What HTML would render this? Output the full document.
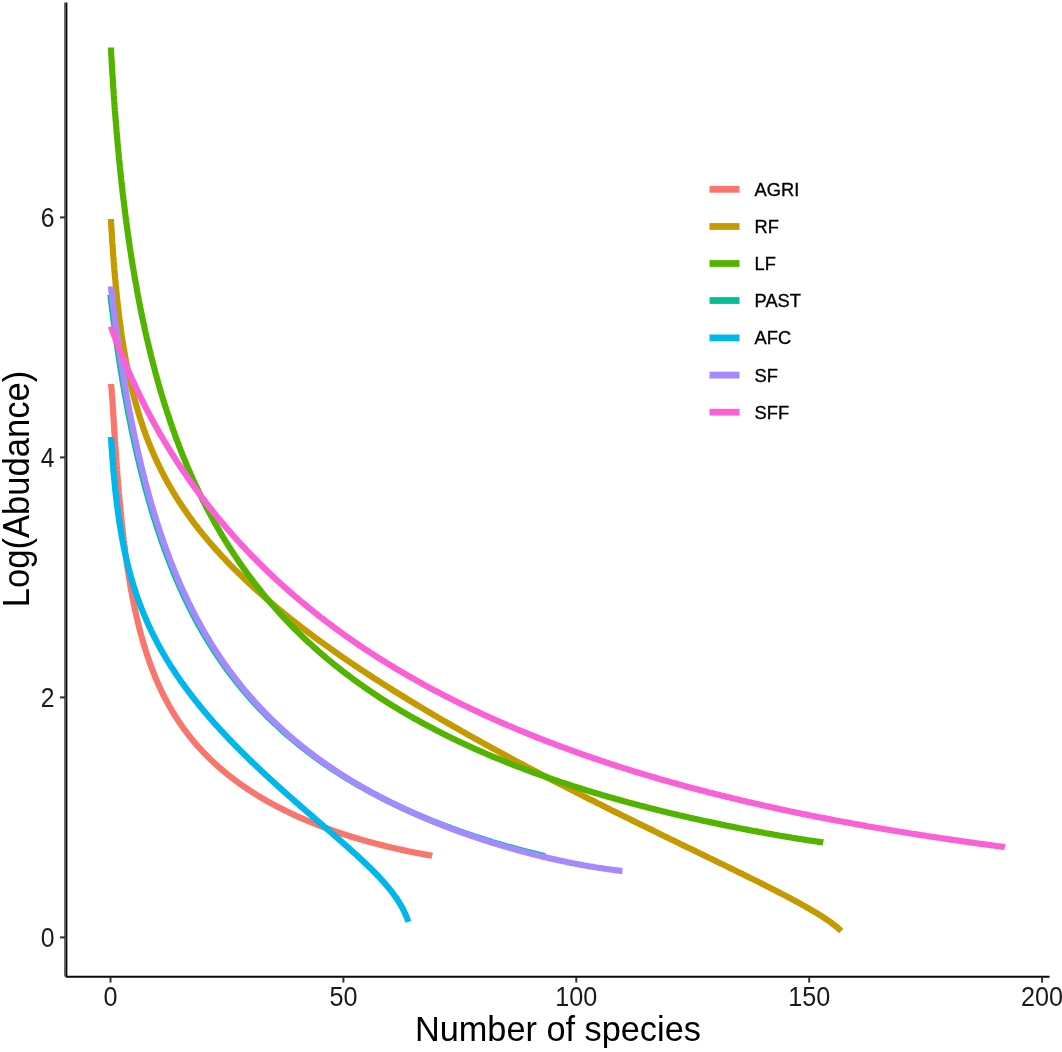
<!DOCTYPE html>
<html><head><meta charset="utf-8"><title>Rank abundance</title>
<style>
html,body{margin:0;padding:0;background:#fff;}
body{width:1062px;height:1052px;overflow:hidden;}
svg{display:block;font-family:"Liberation Sans",Arial,sans-serif;filter:blur(0.55px);}
.curves path{fill:none;stroke-width:6.2;stroke-linecap:butt;stroke-linejoin:round;}
</style></head><body>
<svg width="1062" height="1052" viewBox="0 0 1062 1052">
<rect width="1062" height="1052" fill="#fff"/>
<g class="axes">
<line x1="64.7" x2="64.7" y1="2.5" y2="976.6" stroke="#6e6e6e" stroke-width="1.4"/>
<path d="M66.4,2.5 V976.65 H1049.5" fill="none" stroke="#0a0a0a" stroke-width="2" stroke-linejoin="round"/>
<line x1="60" x2="65" y1="937.4" y2="937.4" stroke="#333" stroke-width="2"/>
<text transform="translate(54.6,947.2) scale(0.95,1.06)" font-size="26" text-anchor="end" fill="#1a1a1a">0</text>
<line x1="60" x2="65" y1="697.4" y2="697.4" stroke="#333" stroke-width="2"/>
<text transform="translate(54.6,707.2) scale(0.95,1.06)" font-size="26" text-anchor="end" fill="#1a1a1a">2</text>
<line x1="60" x2="65" y1="457.4" y2="457.4" stroke="#333" stroke-width="2"/>
<text transform="translate(54.6,467.2) scale(0.95,1.06)" font-size="26" text-anchor="end" fill="#1a1a1a">4</text>
<line x1="60" x2="65" y1="217.4" y2="217.4" stroke="#333" stroke-width="2"/>
<text transform="translate(54.6,227.2) scale(0.95,1.06)" font-size="26" text-anchor="end" fill="#1a1a1a">6</text>
<line y1="977" y2="982.6" x1="110.5" x2="110.5" stroke="#333" stroke-width="2"/>
<text transform="translate(110.5,1005.8) scale(0.97,1.055)" font-size="26" text-anchor="middle" fill="#1a1a1a">0</text>
<line y1="977" y2="982.6" x1="343.4" x2="343.4" stroke="#333" stroke-width="2"/>
<text transform="translate(343.4,1005.8) scale(0.97,1.055)" font-size="26" text-anchor="middle" fill="#1a1a1a">50</text>
<line y1="977" y2="982.6" x1="576.3" x2="576.3" stroke="#333" stroke-width="2"/>
<text transform="translate(576.3,1005.8) scale(0.97,1.055)" font-size="26" text-anchor="middle" fill="#1a1a1a">100</text>
<line y1="977" y2="982.6" x1="809.2" x2="809.2" stroke="#333" stroke-width="2"/>
<text transform="translate(809.2,1005.8) scale(0.97,1.055)" font-size="26" text-anchor="middle" fill="#1a1a1a">150</text>
<line y1="977" y2="982.6" x1="1042.1" x2="1042.1" stroke="#333" stroke-width="2"/>
<text transform="translate(1042.1,1005.8) scale(0.97,1.055)" font-size="26" text-anchor="middle" fill="#1a1a1a">200</text>
</g>
<g class="curves">
<clipPath id="cAGRI"><rect x="0" y="384.0" width="1062" height="1052"/></clipPath>
<path d="M110.0,379.1 L110.9,384.0 L110.9,384.0 L111.0,384.3 L111.0,384.6 L111.1,385.0 L111.2,385.5 L111.2,386.0 L111.3,386.6 L111.4,387.3 L111.5,388.0 L111.5,388.8 L111.6,389.7 L111.7,390.6 L111.8,391.5 L111.8,392.5 L111.9,393.6 L112.0,394.3 L112.0,394.7 L112.1,395.8 L112.2,397.0 L112.3,398.3 L112.3,399.5 L112.4,400.8 L112.5,402.2 L112.6,403.6 L112.7,405.0 L112.8,406.4 L112.9,407.9 L113.0,409.4 L113.0,410.4 L113.1,410.9 L113.2,412.5 L113.3,414.1 L113.4,415.7 L113.5,417.3 L113.6,419.0 L113.7,420.6 L113.8,422.3 L113.9,424.1 L114.0,425.8 L114.1,427.6 L114.1,427.6 L114.2,429.3 L114.3,431.1 L114.5,432.9 L114.6,434.8 L114.7,436.6 L114.8,438.5 L114.9,440.3 L115.1,442.2 L115.2,444.1 L115.2,444.1 L115.3,446.0 L115.5,448.0 L115.6,449.9 L115.7,451.8 L115.9,453.8 L116.0,455.8 L116.1,457.7 L116.3,459.7 L116.3,459.7 L116.4,461.7 L116.6,463.7 L116.7,465.7 L116.9,467.7 L117.0,469.7 L117.2,471.7 L117.3,473.8 L117.3,474.1 L117.5,475.8 L117.6,477.8 L117.8,479.9 L118.0,481.9 L118.1,484.0 L118.3,486.0 L118.4,487.4 L118.5,488.1 L118.7,490.2 L118.8,492.2 L119.0,494.3 L119.2,496.4 L119.4,498.4 L119.5,499.7 L119.6,500.5 L119.8,502.6 L120.0,504.6 L120.2,506.7 L120.3,508.8 L120.6,510.9 L120.6,511.0 L120.8,512.9 L121.0,515.0 L121.2,517.1 L121.4,519.2 L121.6,521.2 L121.6,521.6 L121.8,523.3 L122.0,525.4 L122.3,527.4 L122.5,529.5 L122.7,531.4 L122.7,531.6 L123.0,533.6 L123.2,535.7 L123.5,537.7 L123.7,539.8 L123.8,540.6 L124.0,541.9 L124.2,543.9 L124.5,546.0 L124.7,548.0 L124.9,549.1 L125.0,550.0 L125.3,552.1 L125.5,554.1 L125.8,556.2 L125.9,557.2 L126.1,558.2 L126.4,560.2 L126.7,562.2 L126.9,564.3 L127.0,564.7 L127.2,566.3 L127.5,568.3 L127.8,570.3 L128.1,571.8 L128.2,572.3 L128.5,574.3 L128.8,576.3 L129.1,578.3 L129.2,578.6 L129.4,580.2 L129.8,582.2 L130.1,584.2 L130.2,585.0 L130.4,586.2 L130.8,588.1 L131.1,590.1 L131.3,591.0 L131.5,592.0 L131.9,594.0 L132.2,595.9 L132.4,596.7 L132.6,597.9 L133.0,599.8 L133.4,601.7 L133.5,602.2 L133.5,602.6 L133.7,603.7 L134.1,605.6 L134.5,607.4 L134.5,607.5 L134.9,609.4 L135.4,611.3 L135.6,612.4 L135.8,613.2 L136.2,615.1 L136.6,617.0 L136.7,617.2 L137.1,618.8 L137.5,620.7 L137.8,621.8 L137.9,622.6 L138.4,624.4 L138.8,626.2 L138.9,626.3 L139.3,628.2 L139.8,630.0 L139.9,630.4 L140.3,631.8 L140.8,633.7 L141.0,634.4 L141.3,635.5 L141.8,637.3 L142.1,638.4 L142.3,639.1 L142.8,640.9 L143.1,642.1 L143.3,642.7 L143.8,644.5 L144.2,645.7 L144.4,646.3 L144.9,648.1 L145.3,649.3 L145.5,649.9 L146.0,651.7 L146.4,652.6 L146.6,653.4 L147.2,655.2 L147.4,655.9 L147.8,657.0 L148.4,658.7 L148.5,659.1 L149.0,660.5 L149.6,662.2 L149.6,662.2 L150.2,663.9 L150.6,665.2 L150.8,665.7 L151.5,667.4 L151.7,668.1 L152.1,669.1 L152.8,670.8 L152.8,670.9 L153.4,672.5 L153.9,673.6 L154.1,674.2 L154.6,675.4 L154.8,675.9 L154.9,676.3 L155.5,677.6 L156.0,678.8 L156.2,679.3 L156.9,680.9 L157.1,681.4 L157.6,682.6 L158.2,683.8 L158.4,684.3 L159.1,685.9 L159.2,686.2 L159.9,687.6 L160.3,688.5 L160.6,689.2 L161.4,690.8 L161.4,690.9 L162.2,692.5 L162.5,693.0 L163.0,694.2 L163.5,695.2 L163.8,695.8 L164.6,697.3 L164.6,697.4 L165.5,699.0 L165.7,699.4 L166.3,700.6 L166.8,701.4 L167.2,702.2 L167.8,703.4 L168.1,703.8 L168.9,705.4 L168.9,705.4 L169.8,707.0 L170.0,707.3 L170.8,708.6 L171.1,709.1 L171.7,710.2 L172.1,711.0 L172.6,711.8 L173.2,712.8 L173.6,713.3 L174.2,714.4 L174.3,714.5 L174.5,714.9 L175.4,716.2 L175.5,716.5 L176.4,717.9 L176.5,718.0 L177.5,719.6 L177.5,719.6 L178.5,721.1 L178.6,721.2 L179.6,722.7 L179.7,722.8 L180.6,724.2 L180.7,724.4 L181.7,725.7 L181.8,725.9 L182.7,727.2 L182.9,727.4 L183.8,728.8 L183.9,728.9 L185.0,730.3 L185.0,730.4 L186.1,731.8 L186.1,731.8 L187.2,733.2 L187.2,733.3 L188.2,734.6 L188.4,734.8 L189.3,736.0 L189.6,736.3 L190.4,737.4 L190.7,737.8 L191.5,738.7 L192.0,739.3 L192.4,739.9 L192.5,740.0 L193.2,740.8 L193.6,741.3 L194.4,742.3 L194.7,742.6 L195.7,743.7 L195.8,743.8 L196.8,745.1 L197.0,745.2 L197.9,746.3 L198.3,746.7 L199.0,747.5 L199.6,748.1 L200.1,748.7 L200.9,749.6 L201.1,749.8 L202.2,751.0 L202.3,751.1 L203.3,752.1 L203.6,752.5 L204.4,753.3 L205.0,754.0 L205.4,754.4 L206.5,755.4 L206.5,755.5 L207.6,756.5 L207.9,756.8 L208.7,757.6 L209.3,758.3 L209.4,758.3 L209.7,758.6 L210.8,759.7 L210.8,759.7 L211.9,760.7 L212.3,761.1 L213.0,761.7 L213.8,762.5 L214.0,762.7 L215.1,763.7 L215.4,764.0 L216.2,764.7 L216.9,765.4 L217.3,765.7 L218.3,766.6 L218.5,766.8 L219.4,767.6 L220.1,768.2 L220.5,768.5 L221.5,769.4 L221.8,769.6 L222.6,770.3 L223.4,771.0 L223.7,771.2 L224.8,772.1 L225.1,772.4 L225.2,772.5 L225.8,773.0 L226.8,773.8 L226.9,773.9 L228.0,774.7 L228.5,775.2 L229.1,775.6 L230.1,776.4 L230.3,776.5 L231.2,777.3 L232.0,777.9 L232.3,778.1 L233.4,778.9 L233.8,779.3 L234.4,779.7 L235.5,780.5 L235.7,780.7 L236.6,781.3 L237.5,782.0 L237.7,782.1 L238.7,782.9 L239.4,783.4 L239.8,783.7 L239.9,783.7 L240.9,784.4 L241.3,784.7 L242.0,785.2 L243.0,785.9 L243.2,786.1 L244.1,786.7 L245.2,787.4 L245.2,787.4 L246.3,788.2 L247.2,788.8 L247.3,788.9 L248.4,789.6 L249.2,790.1 L249.5,790.3 L250.6,791.0 L251.2,791.4 L251.6,791.7 L252.7,792.4 L253.3,792.8 L253.6,792.9 L253.8,793.1 L254.8,793.7 L255.4,794.1 L255.9,794.4 L257.0,795.1 L257.5,795.4 L258.1,795.7 L259.1,796.4 L259.7,796.7 L260.2,797.0 L261.3,797.7 L261.9,798.0 L262.4,798.3 L263.4,798.9 L264.1,799.3 L264.5,799.6 L265.6,800.2 L266.3,800.6 L266.4,800.6 L266.7,800.8 L267.7,801.4 L268.7,801.9 L268.8,802.0 L269.9,802.6 L271.0,803.2 L271.0,803.2 L272.0,803.8 L273.1,804.4 L273.4,804.5 L274.2,804.9 L275.3,805.5 L275.8,805.8 L276.3,806.1 L277.4,806.6 L278.1,807.0 L278.2,807.1 L278.5,807.2 L279.6,807.8 L280.6,808.3 L280.6,808.3 L281.7,808.9 L282.8,809.4 L283.1,809.6 L283.9,809.9 L284.9,810.5 L285.7,810.8 L286.0,811.0 L287.1,811.5 L288.2,812.0 L288.2,812.1 L289.2,812.5 L289.2,812.6 L290.3,813.1 L290.8,813.3 L291.4,813.6 L292.4,814.1 L293.5,814.6 L293.5,814.6 L294.6,815.1 L295.7,815.6 L296.2,815.8 L296.7,816.1 L297.8,816.6 L298.9,817.0 L298.9,817.0 L299.4,817.3 L300.0,817.5 L301.0,818.0 L301.6,818.2 L302.1,818.5 L303.2,818.9 L304.3,819.4 L304.4,819.5 L305.3,819.8 L306.4,820.3 L307.3,820.7 L307.5,820.8 L308.6,821.2 L309.0,821.4 L309.6,821.7 L310.1,821.9 L310.7,822.1 L311.8,822.5 L312.9,823.0 L313.1,823.0 L313.9,823.4 L315.0,823.8 L316.0,824.2 L316.1,824.3 L317.2,824.7 L317.8,824.9 L318.2,825.1 L319.0,825.4 L319.3,825.5 L320.4,825.9 L321.5,826.3 L322.1,826.6 L322.5,826.8 L323.6,827.2 L324.7,827.6 L325.2,827.7 L325.7,828.0 L326.1,828.1 L326.8,828.4 L327.9,828.7 L328.3,828.9 L329.0,829.1 L330.0,829.5 L331.1,829.9 L331.5,830.0 L332.2,830.3 L333.3,830.7 L333.8,830.8 L334.3,831.0 L334.7,831.2 L335.4,831.4 L336.5,831.8 L337.6,832.2 L338.0,832.3 L338.6,832.5 L339.7,832.9 L340.8,833.2 L340.9,833.3 L341.3,833.4 L341.9,833.6 L342.9,834.0 L344.0,834.3 L344.6,834.5 L345.1,834.7 L346.2,835.0 L347.2,835.3 L347.6,835.5 L348.0,835.6 L348.3,835.7 L349.4,836.0 L350.5,836.4 L351.5,836.7 L351.5,836.7 L352.6,837.0 L353.7,837.4 L353.8,837.4 L354.8,837.7 L355.0,837.8 L355.8,838.0 L356.9,838.3 L358.0,838.6 L358.6,838.8 L359.1,839.0 L359.5,839.1 L360.1,839.3 L361.2,839.6 L362.2,839.9 L362.3,839.9 L363.3,840.2 L364.4,840.5 L364.9,840.7 L365.5,840.8 L365.8,840.9 L366.6,841.1 L367.6,841.4 L368.7,841.7 L369.6,841.9 L369.8,842.0 L369.9,842.0 L370.9,842.3 L371.9,842.6 L373.0,842.9 L373.3,843.0 L374.1,843.2 L374.5,843.3 L375.2,843.5 L376.2,843.7 L377.1,844.0 L377.3,844.0 L378.4,844.3 L378.9,844.4 L379.5,844.6 L380.5,844.8 L381.0,845.0 L381.6,845.1 L382.7,845.4 L382.9,845.4 L383.8,845.6 L384.8,845.9 L385.0,845.9 L385.9,846.2 L386.6,846.3 L387.0,846.4 L388.1,846.7 L388.9,846.9 L389.1,846.9 L390.1,847.2 L390.2,847.2 L391.3,847.5 L392.4,847.7 L393.0,847.9 L393.4,847.9 L393.4,848.0 L394.5,848.2 L395.6,848.4 L396.4,848.6 L396.6,848.7 L397.1,848.8 L397.7,848.9 L398.8,849.2 L399.2,849.3 L399.9,849.4 L400.9,849.6 L401.3,849.7 L401.8,849.8 L402.0,849.9 L403.1,850.1 L404.2,850.3 L404.2,850.4 L405.2,850.6 L405.5,850.6 L406.3,850.8 L406.5,850.8 L407.4,851.0 L408.5,851.2 L408.6,851.3 L409.5,851.5 L409.8,851.5 L410.5,851.7 L410.6,851.7 L411.7,851.9 L412.4,852.0 L412.8,852.1 L413.8,852.3 L414.1,852.4 L414.1,852.4 L414.9,852.5 L415.6,852.7 L416.0,852.8 L417.1,853.0 L417.1,853.0 L418.1,853.2 L418.5,853.2 L418.5,853.2 L419.2,853.4 L419.7,853.5 L420.3,853.6 L420.9,853.7 L421.4,853.8 L422.0,853.9 L422.4,854.0 L423.0,854.1 L423.0,854.1 L423.5,854.2 L424.0,854.3 L424.6,854.4 L424.9,854.4 L425.7,854.6 L425.7,854.6 L426.5,854.7 L426.7,854.8 L427.2,854.8 L427.5,854.9 L427.8,854.9 L427.9,855.0 L428.5,855.1 L428.9,855.1 L429.0,855.2 L429.6,855.3 L430.0,855.3 L430.1,855.3 L430.5,855.4 L431.0,855.5 L431.0,855.5 L431.4,855.6 L431.8,855.6 L432.1,855.7 L432.1,855.7" stroke="#F8766D" clip-path="url(#cAGRI)"/>
<clipPath id="cRF"><rect x="0" y="219.1" width="1062" height="1052"/></clipPath>
<path d="M110.6,214.1 L110.9,219.1 L111.0,220.6 L111.1,222.0 L111.1,223.4 L111.2,224.8 L111.3,226.3 L111.4,227.7 L111.5,229.2 L111.6,230.7 L111.7,232.2 L111.8,233.7 L111.9,235.2 L111.9,236.7 L112.0,238.2 L112.1,239.7 L112.2,241.2 L112.3,242.8 L112.5,244.3 L112.6,245.9 L112.7,247.4 L112.8,249.0 L112.9,250.6 L113.0,252.1 L113.1,253.7 L113.2,255.3 L113.3,256.8 L113.4,256.9 L113.5,258.5 L113.6,260.1 L113.7,261.8 L113.9,263.4 L114.0,265.0 L114.1,266.7 L114.2,268.3 L114.4,269.9 L114.5,271.6 L114.7,273.3 L114.8,274.9 L115.0,276.6 L115.1,278.3 L115.3,279.9 L115.4,281.6 L115.6,283.3 L115.7,285.0 L115.8,285.6 L115.9,286.7 L116.1,288.4 L116.2,290.1 L116.4,291.8 L116.6,293.5 L116.7,295.2 L116.9,296.9 L117.1,298.7 L117.3,300.4 L117.5,302.1 L117.7,303.8 L117.9,305.6 L118.1,307.3 L118.2,308.8 L118.3,309.0 L118.5,310.8 L118.7,312.5 L118.9,314.3 L119.1,316.0 L119.3,317.8 L119.5,319.5 L119.8,321.3 L120.0,323.1 L120.2,324.8 L120.5,326.6 L120.7,328.0 L120.7,328.3 L121.0,330.1 L121.2,331.9 L121.5,333.7 L121.7,335.4 L122.0,337.2 L122.3,339.0 L122.5,340.7 L122.8,342.5 L123.1,344.3 L123.1,344.4 L123.4,346.1 L123.7,347.9 L124.0,349.6 L124.3,351.4 L124.6,353.2 L124.9,355.0 L125.2,356.8 L125.5,358.6 L125.6,358.6 L125.9,360.4 L126.2,362.1 L126.6,363.9 L126.9,365.7 L127.3,367.5 L127.6,369.3 L128.0,371.1 L128.0,371.2 L128.3,372.9 L128.7,374.7 L129.1,376.5 L129.5,378.3 L129.9,380.1 L130.3,381.9 L130.4,382.5 L130.7,383.7 L131.1,385.5 L131.6,387.3 L132.0,389.0 L132.4,390.8 L132.9,392.6 L132.9,392.7 L133.3,394.4 L133.8,396.2 L134.3,398.0 L134.7,399.8 L135.2,401.6 L135.3,402.0 L135.7,403.4 L136.2,405.2 L136.7,407.0 L137.3,408.8 L137.8,410.6 L137.8,410.6 L138.3,412.4 L138.9,414.2 L139.4,416.0 L140.0,417.9 L140.2,418.5 L140.6,419.7 L141.2,421.5 L141.8,423.3 L142.4,425.1 L142.7,425.9 L143.0,426.9 L143.6,428.7 L144.2,430.5 L144.9,432.3 L145.1,432.9 L145.5,434.1 L146.2,435.9 L146.9,437.8 L147.5,439.4 L147.6,439.6 L148.3,441.4 L149.0,443.2 L149.8,445.0 L150.0,445.6 L150.5,446.8 L151.2,448.7 L152.0,450.5 L152.4,451.4 L152.8,452.3 L153.6,454.1 L154.4,456.0 L154.9,457.0 L155.2,457.8 L156.1,459.6 L156.9,461.5 L157.3,462.3 L157.8,463.3 L158.7,465.1 L159.6,467.0 L159.7,467.4 L160.5,468.8 L161.4,470.7 L162.2,472.3 L162.3,472.5 L163.3,474.4 L164.3,476.2 L164.6,476.9 L165.2,478.1 L166.3,480.0 L167.1,481.5 L167.3,481.8 L168.3,483.7 L169.4,485.6 L169.5,485.8 L170.5,487.4 L171.3,488.9 L171.6,489.3 L172.0,490.0 L172.7,491.2 L173.8,493.1 L174.4,494.1 L175.0,495.0 L176.1,496.9 L176.8,498.0 L177.3,498.8 L178.5,500.7 L179.3,501.9 L179.8,502.6 L181.0,504.5 L181.7,505.6 L182.3,506.4 L183.6,508.4 L184.2,509.2 L184.9,510.3 L186.3,512.2 L186.6,512.7 L187.6,514.2 L189.0,516.1 L189.1,516.2 L190.4,518.1 L191.5,519.5 L191.9,520.0 L193.3,522.0 L193.9,522.8 L194.8,524.0 L196.3,526.0 L196.4,526.0 L197.9,527.9 L198.8,529.2 L199.4,529.9 L201.0,531.9 L201.3,532.2 L202.6,533.9 L203.7,535.3 L204.3,536.0 L206.0,538.0 L206.2,538.2 L207.7,540.0 L208.6,541.1 L209.4,542.1 L211.0,544.0 L211.2,544.1 L213.0,546.2 L213.5,546.8 L214.8,548.2 L215.9,549.5 L216.6,550.3 L218.4,552.2 L218.5,552.4 L220.4,554.5 L220.8,554.9 L222.4,556.6 L223.3,557.5 L224.4,558.7 L225.7,560.1 L226.4,560.8 L226.8,561.3 L228.1,562.7 L228.4,563.0 L230.5,565.1 L230.6,565.2 L232.6,567.3 L233.0,567.7 L234.8,569.5 L235.5,570.1 L237.0,571.6 L237.9,572.5 L239.2,573.8 L240.4,574.9 L241.5,576.0 L242.8,577.3 L243.8,578.2 L245.2,579.6 L246.1,580.5 L247.7,581.9 L248.5,582.7 L250.1,584.2 L251.0,585.0 L252.6,586.4 L253.4,587.2 L255.0,588.7 L255.9,589.5 L257.4,590.9 L258.5,591.8 L259.9,593.0 L261.1,594.1 L262.3,595.2 L263.7,596.4 L264.8,597.3 L266.4,598.8 L267.2,599.5 L269.2,601.1 L269.7,601.5 L271.9,603.5 L272.1,603.6 L274.5,605.7 L274.8,605.9 L277.0,607.7 L277.7,608.3 L277.7,608.3 L279.4,609.7 L280.6,610.7 L281.9,611.7 L283.6,613.1 L284.3,613.7 L286.6,615.6 L286.8,615.7 L289.2,617.7 L289.7,618.0 L291.6,619.6 L292.8,620.5 L294.1,621.5 L296.0,623.0 L296.5,623.4 L299.0,625.3 L299.2,625.5 L301.4,627.2 L302.5,628.0 L303.9,629.1 L305.9,630.6 L306.3,630.9 L308.7,632.8 L309.3,633.2 L311.2,634.6 L312.7,635.8 L313.6,636.4 L316.1,638.2 L316.3,638.4 L318.5,640.0 L319.8,641.0 L321.0,641.8 L323.4,643.6 L323.5,643.6 L324.4,644.3 L325.8,645.3 L327.2,646.3 L328.3,647.1 L330.7,648.8 L331.0,649.0 L333.2,650.5 L334.8,651.7 L335.6,652.3 L338.1,654.0 L338.7,654.4 L340.5,655.7 L342.7,657.2 L342.9,657.4 L345.4,659.0 L346.7,660.0 L347.8,660.7 L350.3,662.4 L350.8,662.8 L352.7,664.0 L355.0,665.6 L355.1,665.7 L357.6,667.3 L359.2,668.4 L360.0,669.0 L362.5,670.6 L363.6,671.3 L364.9,672.2 L367.2,673.7 L367.4,673.8 L368.0,674.2 L369.8,675.4 L372.2,677.0 L372.4,677.1 L374.7,678.6 L377.0,680.0 L377.1,680.1 L379.6,681.7 L381.6,683.0 L382.0,683.3 L384.5,684.8 L386.3,686.0 L386.9,686.4 L389.3,687.9 L391.1,689.0 L391.8,689.5 L394.2,691.0 L395.9,692.1 L396.7,692.5 L399.1,694.0 L400.9,695.1 L401.6,695.5 L404.0,697.0 L405.9,698.2 L406.4,698.5 L406.6,698.6 L408.9,700.0 L411.0,701.3 L411.3,701.5 L413.8,703.0 L416.2,704.5 L416.2,704.5 L418.7,706.0 L421.1,707.4 L421.5,707.7 L423.5,708.9 L426.0,710.3 L426.9,710.9 L428.4,711.8 L430.9,713.2 L432.4,714.1 L433.3,714.7 L435.7,716.1 L437.9,717.4 L438.2,717.6 L440.6,719.0 L442.7,720.2 L443.1,720.4 L443.6,720.7 L445.5,721.8 L448.0,723.2 L449.4,724.0 L450.4,724.6 L452.8,726.0 L455.2,727.4 L455.3,727.4 L457.7,728.8 L460.2,730.2 L461.2,730.8 L462.6,731.6 L465.1,733.0 L467.2,734.2 L467.5,734.4 L469.9,735.7 L472.4,737.1 L473.4,737.7 L474.8,738.5 L475.8,739.1 L477.3,739.8 L479.7,741.2 L479.7,741.2 L482.2,742.6 L484.6,743.9 L486.0,744.7 L487.0,745.3 L489.5,746.6 L491.9,747.9 L492.5,748.3 L494.4,749.3 L496.8,750.6 L499.1,751.9 L499.3,752.0 L501.7,753.3 L504.1,754.6 L505.8,755.5 L506.3,755.8 L506.6,755.9 L509.0,757.2 L511.5,758.6 L512.7,759.2 L513.9,759.9 L516.4,761.2 L518.8,762.5 L519.6,762.9 L521.2,763.8 L523.7,765.1 L526.1,766.4 L526.6,766.7 L528.6,767.7 L531.0,769.0 L533.4,770.2 L533.8,770.4 L534.2,770.6 L535.9,771.5 L538.3,772.8 L540.8,774.1 L541.1,774.3 L543.2,775.4 L545.7,776.6 L548.1,777.9 L548.5,778.1 L550.5,779.2 L553.0,780.5 L555.4,781.7 L556.1,782.1 L557.9,783.0 L559.8,784.0 L560.3,784.2 L562.8,785.5 L563.8,786.0 L565.2,786.7 L567.6,788.0 L570.1,789.2 L571.6,790.0 L572.5,790.5 L575.0,791.7 L577.4,793.0 L579.5,794.1 L579.9,794.2 L582.3,795.5 L583.3,796.0 L584.7,796.7 L587.2,797.9 L587.6,798.2 L589.6,799.2 L592.1,800.4 L594.5,801.6 L595.8,802.3 L597.0,802.9 L599.4,804.1 L601.8,805.3 L604.2,806.5 L604.3,806.5 L604.9,806.8 L606.7,807.7 L609.2,809.0 L611.6,810.2 L612.7,810.7 L614.0,811.4 L616.5,812.6 L618.9,813.8 L621.3,815.0 L621.4,815.0 L623.8,816.2 L624.7,816.7 L626.3,817.4 L628.7,818.6 L630.1,819.3 L631.1,819.9 L633.6,821.1 L636.0,822.3 L638.5,823.5 L639.1,823.7 L640.9,824.7 L642.9,825.6 L643.4,825.9 L645.8,827.0 L648.2,828.2 L648.2,828.2 L650.7,829.4 L653.1,830.6 L655.6,831.8 L657.4,832.7 L658.0,833.0 L659.6,833.8 L660.5,834.2 L662.9,835.4 L665.3,836.6 L666.8,837.3 L667.8,837.8 L670.2,839.0 L672.7,840.1 L674.9,841.2 L675.1,841.3 L676.4,842.0 L677.6,842.5 L680.0,843.7 L682.4,844.9 L684.9,846.1 L686.1,846.7 L687.3,847.3 L688.9,848.0 L689.8,848.4 L692.2,849.6 L694.7,850.8 L696.0,851.5 L697.1,852.0 L699.5,853.2 L701.8,854.3 L702.0,854.4 L704.4,855.5 L706.1,856.4 L706.9,856.7 L709.3,857.9 L711.7,859.1 L713.7,860.0 L714.2,860.3 L716.3,861.3 L716.6,861.5 L719.1,862.7 L721.5,863.8 L724.0,865.0 L724.5,865.3 L726.4,866.2 L726.8,866.4 L728.8,867.4 L731.3,868.6 L733.7,869.8 L734.5,870.2 L736.2,871.0 L737.3,871.6 L738.6,872.2 L741.1,873.4 L743.5,874.6 L743.7,874.7 L745.9,875.8 L748.1,876.9 L748.4,877.0 L750.8,878.2 L752.1,878.8 L753.3,879.4 L755.7,880.6 L758.2,881.8 L759.1,882.3 L759.8,882.6 L760.6,883.0 L763.0,884.3 L765.5,885.5 L766.9,886.2 L767.9,886.7 L770.2,887.9 L770.4,888.0 L772.8,889.2 L773.4,889.5 L775.3,890.5 L777.7,891.7 L779.3,892.5 L780.1,893.0 L781.6,893.7 L782.6,894.2 L784.8,895.4 L785.0,895.5 L787.5,896.8 L789.8,898.0 L789.9,898.1 L792.4,899.4 L793.1,899.8 L794.4,900.5 L794.8,900.7 L797.2,902.0 L798.6,902.8 L799.7,903.4 L802.1,904.7 L802.5,904.9 L804.6,906.1 L804.8,906.2 L806.1,906.9 L807.0,907.5 L809.4,908.8 L809.4,908.9 L811.9,910.3 L812.4,910.6 L814.3,911.7 L815.1,912.2 L816.7,913.2 L816.8,913.2 L817.6,913.7 L819.2,914.7 L820.0,915.2 L821.7,916.2 L822.1,916.5 L824.0,917.8 L824.1,917.8 L825.8,919.0 L826.5,919.5 L827.5,920.1 L828.9,921.1 L829.0,921.1 L829.0,921.1 L830.4,922.1 L831.4,922.9 L831.7,923.1 L832.8,923.9 L833.9,924.7 L833.9,924.8 L834.9,925.5 L835.8,926.2 L836.3,926.7 L836.6,926.9 L837.4,927.6 L838.1,928.1 L838.7,928.7 L838.8,928.7 L839.3,929.2 L839.8,929.7 L840.3,930.2 L840.8,930.6 L841.2,931.0" stroke="#C49A00" clip-path="url(#cRF)"/>
<clipPath id="cLF"><rect x="0" y="47.6" width="1062" height="1052"/></clipPath>
<path d="M110.6,42.6 L110.9,47.6 L111.0,49.0 L111.1,50.5 L111.1,52.0 L111.2,53.6 L111.3,55.1 L111.4,56.6 L111.5,58.2 L111.6,59.8 L111.7,61.3 L111.8,62.9 L111.8,64.5 L111.9,66.2 L112.0,67.8 L112.1,69.4 L112.2,71.1 L112.3,72.7 L112.4,74.4 L112.5,76.1 L112.7,77.8 L112.8,79.5 L112.9,81.2 L113.0,83.0 L113.1,84.7 L113.2,86.5 L113.3,87.4 L113.3,88.3 L113.5,90.1 L113.6,91.9 L113.7,93.7 L113.8,95.5 L114.0,97.3 L114.1,99.2 L114.2,101.0 L114.4,102.9 L114.5,104.8 L114.6,106.7 L114.8,108.6 L114.9,110.5 L115.1,112.5 L115.2,114.4 L115.4,116.4 L115.5,118.4 L115.7,120.0 L115.7,120.4 L115.9,122.4 L116.0,124.4 L116.2,126.4 L116.4,128.4 L116.5,130.5 L116.7,132.6 L116.9,134.6 L117.1,136.7 L117.2,138.8 L117.4,140.9 L117.6,143.1 L117.8,145.2 L118.0,147.4 L118.0,147.8 L118.2,149.5 L118.4,151.7 L118.6,153.9 L118.8,156.1 L119.0,158.3 L119.3,160.6 L119.5,162.8 L119.7,165.1 L119.9,167.3 L120.2,169.6 L120.4,171.9 L120.4,172.2 L120.6,174.2 L120.9,176.5 L121.1,178.8 L121.4,181.2 L121.6,183.5 L121.9,185.9 L122.2,188.3 L122.4,190.7 L122.7,193.1 L122.8,193.9 L123.0,195.5 L123.3,197.9 L123.6,200.4 L123.9,202.8 L124.2,205.3 L124.5,207.7 L124.8,210.2 L125.1,212.7 L125.2,213.5 L125.4,215.2 L125.7,217.8 L126.1,220.3 L126.4,222.8 L126.8,225.4 L127.1,228.0 L127.5,230.6 L127.6,231.4 L127.8,233.2 L128.2,235.8 L128.6,238.4 L128.9,241.0 L129.3,243.6 L129.7,246.3 L130.0,247.9 L130.1,248.9 L130.5,251.6 L130.9,254.3 L131.3,257.0 L131.8,259.7 L132.2,262.4 L132.3,263.3 L132.6,265.1 L133.1,267.9 L133.6,270.6 L134.0,273.4 L134.5,276.2 L134.7,277.5 L135.0,278.9 L135.5,281.7 L136.0,284.5 L136.5,287.3 L137.0,290.2 L137.1,290.9 L137.5,293.0 L138.0,295.8 L138.6,298.7 L139.1,301.5 L139.5,303.5 L139.7,304.4 L140.2,307.3 L140.8,310.2 L141.4,313.1 L141.9,315.4 L142.0,316.0 L142.6,318.9 L143.2,321.8 L143.9,324.8 L144.3,326.6 L144.5,327.7 L145.1,330.7 L145.8,333.6 L146.5,336.6 L146.6,337.3 L147.2,339.6 L147.9,342.6 L148.6,345.5 L149.0,347.5 L149.3,348.6 L150.0,351.6 L150.8,354.6 L151.4,357.2 L151.5,357.6 L152.3,360.6 L153.1,363.7 L153.8,366.5 L153.9,366.7 L154.7,369.8 L155.5,372.9 L156.2,375.4 L156.3,375.9 L157.2,379.0 L158.0,382.1 L158.5,383.9 L158.9,385.2 L159.8,388.3 L160.7,391.4 L160.9,392.1 L161.6,394.5 L162.6,397.7 L163.3,400.0 L163.5,400.8 L164.5,403.9 L165.5,407.1 L165.7,407.6 L166.5,410.2 L167.5,413.4 L168.1,415.0 L168.6,416.5 L169.6,419.4 L169.6,419.7 L170.5,422.1 L170.7,422.8 L171.8,426.0 L172.8,429.0 L172.9,429.2 L174.1,432.4 L175.2,435.6 L175.2,435.6 L176.4,438.8 L177.6,442.0 L177.6,442.0 L178.8,445.2 L180.0,448.3 L180.0,448.4 L181.3,451.6 L182.4,454.4 L182.5,454.8 L183.8,458.0 L184.8,460.2 L185.2,461.2 L186.5,464.5 L187.1,466.0 L187.9,467.7 L189.3,470.9 L189.5,471.5 L190.7,474.2 L191.9,477.0 L192.1,477.4 L193.6,480.7 L194.3,482.3 L195.0,483.9 L196.5,487.2 L196.7,487.4 L198.1,490.4 L199.0,492.4 L199.6,493.7 L201.2,496.9 L201.4,497.3 L202.8,500.2 L203.8,502.1 L204.5,503.4 L206.1,506.7 L206.2,506.8 L207.8,509.9 L208.6,511.3 L209.6,513.2 L211.0,515.8 L211.3,516.5 L213.1,519.7 L213.3,520.1 L214.9,523.0 L215.7,524.4 L216.8,526.3 L218.1,528.6 L218.7,529.5 L220.5,532.7 L220.6,532.8 L222.5,536.1 L222.9,536.7 L223.4,537.6 L224.5,539.3 L225.2,540.6 L226.5,542.6 L227.6,544.4 L228.5,545.9 L230.0,548.2 L230.6,549.1 L232.4,551.9 L232.7,552.4 L234.8,555.5 L234.9,555.6 L237.1,558.9 L237.2,559.1 L239.3,562.2 L239.5,562.6 L241.5,565.4 L241.9,566.0 L243.8,568.7 L244.3,569.3 L246.2,571.9 L246.7,572.7 L248.5,575.2 L249.1,575.9 L251.0,578.4 L251.5,579.1 L253.4,581.7 L253.8,582.2 L255.9,584.9 L256.2,585.3 L258.5,588.2 L258.6,588.3 L261.0,591.3 L261.1,591.4 L263.4,594.3 L263.7,594.6 L265.7,597.2 L266.4,597.9 L268.1,600.0 L269.1,601.1 L270.5,602.8 L271.8,604.3 L272.9,605.5 L272.9,605.5 L274.7,607.6 L275.3,608.3 L277.5,610.8 L277.7,610.9 L280.0,613.6 L280.4,614.0 L282.4,616.2 L283.4,617.2 L284.8,618.7 L286.4,620.4 L287.2,621.2 L289.5,623.6 L289.6,623.7 L292.0,626.2 L292.6,626.8 L294.3,628.6 L295.7,630.0 L296.7,630.9 L298.9,633.1 L299.1,633.3 L301.5,635.6 L302.2,636.3 L303.9,637.9 L305.6,639.5 L306.2,640.1 L308.6,642.4 L308.9,642.6 L311.0,644.5 L312.4,645.8 L313.4,646.7 L315.8,648.8 L315.9,648.9 L318.2,651.0 L318.3,651.1 L319.4,652.1 L320.5,653.0 L322.9,655.1 L323.1,655.2 L325.3,657.1 L326.7,658.3 L327.7,659.1 L330.1,661.1 L330.5,661.5 L332.5,663.1 L334.3,664.6 L334.8,665.0 L337.2,666.9 L338.2,667.7 L339.6,668.8 L342.0,670.7 L342.1,670.8 L344.4,672.5 L346.1,673.8 L346.7,674.3 L349.1,676.1 L350.2,676.9 L351.5,677.9 L353.9,679.7 L354.3,680.0 L356.3,681.4 L358.6,683.0 L358.7,683.1 L360.0,684.1 L361.0,684.8 L362.8,686.1 L363.4,686.5 L365.8,688.2 L367.2,689.1 L368.2,689.8 L370.6,691.4 L371.6,692.2 L373.0,693.0 L375.3,694.6 L376.1,695.2 L377.7,696.2 L380.1,697.8 L380.7,698.2 L382.5,699.3 L384.9,700.8 L385.4,701.2 L387.2,702.3 L389.6,703.8 L390.1,704.2 L392.0,705.3 L394.4,706.8 L395.0,707.1 L396.8,708.2 L398.3,709.1 L399.2,709.7 L399.9,710.1 L401.5,711.1 L403.9,712.5 L404.8,713.0 L406.3,713.9 L408.7,715.3 L409.9,716.0 L411.1,716.6 L413.4,718.0 L415.1,718.9 L415.8,719.3 L418.2,720.6 L420.3,721.8 L420.6,722.0 L423.0,723.3 L425.4,724.6 L425.7,724.7 L427.7,725.8 L430.1,727.1 L431.1,727.6 L432.5,728.3 L433.4,728.8 L434.9,729.6 L436.6,730.5 L437.3,730.8 L439.7,732.0 L442.0,733.2 L442.2,733.3 L444.4,734.4 L446.8,735.6 L447.9,736.2 L449.2,736.8 L451.6,738.0 L453.7,739.0 L453.9,739.1 L456.3,740.3 L458.7,741.4 L459.6,741.8 L461.1,742.5 L463.5,743.6 L465.6,744.6 L465.7,744.7 L465.9,744.7 L468.2,745.8 L470.6,746.9 L471.7,747.4 L473.0,748.0 L475.4,749.1 L477.8,750.1 L477.9,750.2 L480.2,751.2 L482.5,752.2 L484.3,752.9 L484.9,753.2 L487.3,754.3 L489.7,755.3 L490.7,755.7 L492.1,756.3 L494.4,757.3 L495.3,757.6 L496.8,758.3 L497.2,758.4 L499.2,759.2 L501.6,760.2 L503.9,761.1 L504.0,761.2 L506.4,762.1 L508.7,763.1 L510.6,763.8 L511.1,764.0 L513.5,765.0 L515.9,765.9 L517.5,766.5 L518.3,766.8 L520.7,767.7 L522.5,768.4 L523.0,768.6 L524.5,769.1 L525.4,769.5 L527.8,770.4 L530.2,771.3 L531.6,771.8 L532.6,772.2 L534.9,773.0 L537.3,773.9 L538.8,774.4 L539.7,774.7 L542.1,775.6 L544.5,776.4 L546.1,777.0 L546.9,777.3 L547.5,777.5 L549.2,778.1 L551.6,778.9 L553.6,779.6 L554.0,779.7 L556.4,780.5 L558.8,781.4 L561.1,782.2 L561.2,782.2 L563.5,782.9 L565.9,783.7 L568.3,784.5 L568.9,784.7 L570.5,785.2 L570.7,785.3 L573.1,786.1 L575.4,786.8 L576.8,787.2 L577.8,787.6 L580.2,788.3 L582.6,789.1 L584.8,789.8 L585.0,789.8 L587.4,790.6 L589.7,791.3 L591.5,791.8 L592.1,792.0 L592.9,792.2 L594.5,792.7 L596.9,793.4 L599.3,794.1 L601.2,794.7 L601.6,794.9 L604.0,795.6 L606.4,796.2 L608.8,796.9 L609.6,797.2 L610.9,797.5 L611.2,797.6 L613.6,798.3 L615.9,799.0 L618.1,799.6 L618.3,799.6 L620.7,800.3 L623.1,801.0 L625.5,801.6 L626.8,802.0 L627.9,802.3 L628.6,802.5 L630.2,802.9 L632.6,803.6 L635.0,804.2 L635.7,804.4 L637.4,804.8 L639.8,805.5 L642.1,806.1 L644.5,806.7 L644.7,806.7 L644.9,806.8 L646.9,807.3 L649.3,807.9 L651.7,808.5 L653.8,809.1 L654.1,809.1 L656.4,809.7 L658.8,810.3 L659.9,810.6 L661.2,810.9 L663.1,811.4 L663.6,811.5 L666.0,812.1 L668.4,812.7 L670.7,813.2 L672.6,813.7 L673.1,813.8 L673.6,813.9 L675.5,814.4 L677.9,814.9 L680.3,815.5 L682.2,815.9 L682.6,816.0 L685.0,816.6 L686.2,816.9 L687.4,817.1 L689.8,817.7 L692.0,818.2 L692.2,818.2 L694.6,818.8 L696.9,819.3 L697.8,819.5 L699.3,819.8 L701.7,820.3 L701.9,820.4 L704.1,820.9 L706.5,821.4 L708.5,821.8 L708.9,821.9 L711.2,822.4 L712.1,822.6 L713.6,822.9 L716.0,823.4 L718.2,823.9 L718.4,823.9 L720.8,824.4 L722.3,824.7 L723.1,824.9 L725.5,825.4 L727.2,825.7 L727.9,825.9 L730.3,826.4 L732.7,826.8 L732.8,826.9 L735.1,827.3 L735.4,827.4 L737.4,827.8 L739.8,828.3 L742.2,828.7 L743.0,828.9 L743.5,829.0 L744.6,829.2 L747.0,829.6 L749.3,830.1 L749.9,830.2 L751.7,830.6 L754.1,831.0 L754.3,831.0 L756.3,831.4 L756.5,831.4 L758.9,831.9 L761.3,832.3 L762.2,832.5 L763.6,832.8 L765.3,833.1 L766.0,833.2 L767.5,833.5 L768.4,833.6 L770.8,834.0 L772.5,834.3 L773.2,834.5 L775.6,834.9 L776.5,835.1 L777.0,835.1 L777.9,835.3 L780.3,835.7 L781.2,835.9 L782.7,836.1 L785.0,836.5 L785.1,836.5 L787.5,836.9 L787.9,837.0 L788.5,837.1 L789.8,837.3 L791.7,837.6 L792.2,837.7 L794.6,838.1 L794.7,838.1 L797.0,838.5 L797.4,838.6 L799.4,838.9 L799.4,838.9 L799.9,839.0 L801.8,839.2 L802.2,839.3 L804.1,839.6 L804.3,839.6 L806.2,839.9 L806.5,840.0 L808.0,840.2 L808.9,840.4 L809.6,840.5 L811.1,840.7 L811.2,840.7 L811.3,840.7 L812.5,840.9 L813.7,841.1 L813.7,841.1 L814.9,841.2 L815.9,841.4 L816.1,841.4 L816.9,841.5 L817.8,841.7 L818.4,841.7 L818.6,841.8 L819.4,841.9 L820.1,842.0 L820.7,842.1 L820.8,842.1 L821.3,842.1 L821.8,842.2 L822.3,842.3 L822.8,842.3 L823.2,842.4" stroke="#53B400" clip-path="url(#cLF)"/>
<clipPath id="cPAST"><rect x="0" y="295.0" width="1062" height="1052"/></clipPath>
<path d="M109.8,290.0 L110.4,295.0 L110.5,295.7 L110.6,296.4 L110.7,297.2 L110.7,298.0 L110.8,298.8 L110.9,299.6 L111.0,300.4 L111.1,301.1 L111.1,301.2 L111.2,302.0 L111.3,302.9 L111.4,303.7 L111.6,304.6 L111.7,305.4 L111.8,306.3 L111.9,307.2 L112.0,308.1 L112.1,309.0 L112.2,310.0 L112.3,310.9 L112.5,311.8 L112.6,312.8 L112.7,313.8 L112.8,314.7 L112.8,314.8 L113.0,315.8 L113.1,316.8 L113.2,317.8 L113.4,318.8 L113.5,319.8 L113.6,320.9 L113.8,322.0 L113.9,323.1 L114.1,324.1 L114.2,325.3 L114.4,326.4 L114.5,327.5 L114.5,327.7 L114.7,328.6 L114.8,329.8 L115.0,331.0 L115.2,332.2 L115.3,333.3 L115.5,334.6 L115.7,335.8 L115.8,337.0 L116.0,338.3 L116.2,339.5 L116.3,340.0 L116.4,340.8 L116.6,342.1 L116.7,343.4 L116.9,344.7 L117.1,346.1 L117.3,347.4 L117.5,348.8 L117.7,350.1 L117.9,351.5 L118.0,351.8 L118.1,352.9 L118.3,354.3 L118.6,355.8 L118.8,357.2 L119.0,358.7 L119.2,360.1 L119.5,361.6 L119.7,363.1 L119.7,363.1 L119.9,364.7 L120.2,366.2 L120.4,367.7 L120.7,369.3 L120.9,370.9 L121.2,372.5 L121.4,373.8 L121.4,374.1 L121.7,375.7 L122.0,377.3 L122.2,379.0 L122.5,380.6 L122.8,382.3 L123.1,384.0 L123.1,384.1 L123.4,385.7 L123.7,387.5 L124.0,389.2 L124.3,390.9 L124.6,392.7 L124.8,394.0 L124.9,394.5 L125.2,396.3 L125.6,398.1 L125.9,399.9 L126.2,401.8 L126.5,403.5 L126.6,403.6 L126.9,405.5 L127.3,407.4 L127.6,409.3 L128.0,411.2 L128.2,412.6 L128.3,413.1 L128.7,415.1 L129.1,417.0 L129.5,419.0 L129.9,421.0 L130.0,421.4 L130.3,423.0 L130.7,425.0 L131.1,427.0 L131.5,429.1 L131.7,429.8 L131.9,431.2 L132.4,433.2 L132.8,435.3 L133.3,437.4 L133.4,438.0 L133.7,439.5 L134.2,441.6 L134.6,443.8 L135.1,445.9 L135.1,445.9 L135.6,448.1 L136.1,450.3 L136.6,452.5 L136.8,453.5 L137.1,454.7 L137.6,456.9 L138.1,459.1 L138.5,460.8 L138.7,461.4 L139.2,463.6 L139.7,465.9 L140.2,467.9 L140.3,468.2 L140.9,470.5 L141.4,472.8 L141.9,474.8 L142.0,475.1 L142.6,477.4 L143.2,479.7 L143.7,481.5 L143.8,482.1 L144.4,484.5 L145.1,486.8 L145.4,488.0 L145.7,489.2 L146.4,491.6 L147.0,494.0 L147.1,494.3 L147.7,496.4 L148.4,498.8 L148.8,500.4 L149.0,501.2 L149.1,501.3 L149.8,503.7 L150.5,506.2 L150.5,506.3 L151.2,508.6 L151.9,511.1 L152.2,512.1 L152.7,513.6 L153.5,516.1 L153.9,517.7 L154.2,518.6 L155.0,521.1 L155.7,523.1 L155.8,523.6 L156.6,526.1 L157.4,528.4 L157.5,528.7 L158.3,531.2 L159.1,533.6 L159.1,533.8 L160.0,536.3 L160.8,538.6 L160.9,538.9 L161.8,541.4 L162.5,543.6 L162.7,544.0 L163.6,546.6 L164.2,548.4 L164.5,549.2 L165.5,551.8 L165.9,553.0 L166.4,554.4 L167.4,557.0 L167.7,557.6 L168.4,559.6 L169.4,562.1 L169.4,562.2 L170.5,564.8 L171.1,566.4 L171.5,567.5 L172.6,570.1 L172.8,570.7 L173.6,572.7 L174.5,574.9 L174.7,575.4 L175.8,578.0 L176.2,578.9 L177.0,580.7 L178.0,582.9 L178.1,583.3 L179.3,586.0 L179.7,586.8 L180.5,588.6 L181.4,590.7 L181.7,591.3 L182.9,594.0 L183.1,594.4 L184.1,596.6 L184.8,598.1 L185.4,599.3 L185.7,599.9 L186.5,601.7 L186.7,602.0 L188.0,604.7 L188.2,605.2 L189.3,607.3 L190.0,608.6 L190.7,610.0 L191.7,612.0 L192.0,612.7 L193.4,615.3 L193.4,615.4 L194.8,618.1 L195.1,618.6 L196.2,620.7 L196.8,621.8 L197.7,623.4 L198.5,625.0 L199.2,626.1 L200.3,628.0 L200.7,628.8 L202.0,631.1 L202.2,631.5 L203.7,634.0 L203.8,634.1 L205.4,636.8 L205.5,636.9 L207.0,639.5 L207.2,639.8 L208.6,642.1 L208.9,642.6 L210.3,644.8 L210.6,645.4 L212.0,647.5 L212.4,648.1 L213.7,650.2 L214.1,650.8 L215.4,652.8 L215.8,653.4 L217.2,655.5 L217.5,656.0 L219.0,658.1 L219.3,658.6 L219.7,659.2 L220.8,660.8 L221.0,661.1 L222.6,663.5 L222.7,663.6 L224.4,666.0 L224.5,666.1 L226.2,668.4 L226.4,668.8 L227.9,670.8 L228.4,671.4 L229.6,673.1 L230.4,674.1 L231.4,675.4 L232.4,676.7 L233.1,677.6 L234.4,679.3 L234.8,679.9 L236.5,681.9 L236.5,682.0 L238.3,684.2 L238.6,684.6 L240.0,686.3 L240.7,687.2 L241.7,688.4 L242.9,689.8 L243.4,690.5 L245.1,692.4 L245.2,692.5 L246.9,694.5 L247.3,695.0 L248.6,696.5 L249.6,697.6 L250.3,698.5 L251.1,699.4 L251.9,700.2 L252.1,700.4 L253.8,702.3 L254.2,702.8 L255.5,704.2 L256.6,705.4 L257.2,706.1 L259.0,707.9 L259.0,708.0 L260.7,709.7 L261.5,710.5 L262.4,711.5 L264.0,713.1 L264.1,713.3 L265.9,715.0 L266.5,715.7 L267.6,716.7 L269.1,718.2 L269.3,718.4 L271.0,720.1 L271.7,720.8 L272.8,721.8 L274.4,723.3 L274.5,723.4 L276.2,725.0 L277.1,725.8 L277.9,726.6 L279.7,728.2 L279.8,728.4 L280.1,728.6 L281.4,729.8 L282.6,730.9 L283.1,731.3 L284.8,732.9 L285.4,733.4 L286.5,734.4 L288.3,735.9 L288.3,735.9 L290.0,737.3 L291.2,738.4 L291.7,738.8 L293.4,740.3 L294.2,740.9 L295.2,741.7 L296.9,743.1 L297.2,743.3 L298.6,744.5 L300.2,745.8 L300.3,745.9 L302.0,747.2 L303.3,748.3 L303.8,748.6 L305.5,749.9 L306.5,750.7 L306.9,751.0 L307.2,751.3 L308.9,752.6 L309.7,753.1 L310.7,753.9 L312.4,755.1 L313.0,755.6 L314.1,756.4 L315.8,757.7 L316.3,758.0 L317.5,758.9 L319.3,760.2 L319.6,760.4 L321.0,761.4 L322.7,762.6 L323.0,762.8 L324.4,763.8 L326.1,765.0 L326.5,765.2 L327.9,766.1 L329.6,767.3 L330.0,767.6 L331.3,768.5 L331.5,768.6 L333.0,769.6 L333.6,770.0 L334.7,770.7 L336.5,771.8 L337.2,772.3 L338.2,772.9 L339.9,774.0 L340.9,774.7 L341.6,775.1 L343.3,776.2 L344.7,777.0 L345.1,777.3 L346.8,778.3 L348.5,779.4 L348.5,779.4 L350.2,780.4 L351.9,781.4 L352.3,781.7 L353.6,782.5 L354.3,782.8 L355.4,783.5 L356.2,784.0 L357.1,784.5 L358.8,785.5 L360.2,786.3 L360.5,786.4 L362.2,787.4 L364.0,788.4 L364.3,788.6 L365.7,789.3 L367.4,790.3 L368.4,790.8 L369.1,791.2 L370.8,792.2 L372.5,793.1 L372.6,793.1 L374.3,794.0 L375.3,794.5 L376.0,794.9 L376.8,795.3 L377.7,795.8 L379.4,796.7 L381.1,797.6 L381.1,797.6 L382.8,798.5 L384.6,799.3 L385.5,799.8 L386.3,800.2 L388.0,801.1 L389.7,801.9 L390.0,802.0 L391.4,802.7 L393.2,803.6 L394.5,804.2 L394.6,804.3 L394.9,804.4 L396.6,805.2 L398.3,806.0 L399.1,806.4 L400.0,806.8 L401.7,807.6 L403.4,808.4 L403.7,808.6 L405.2,809.2 L406.9,810.0 L408.5,810.7 L408.6,810.8 L410.3,811.6 L412.0,812.3 L412.5,812.5 L413.3,812.9 L413.7,813.1 L415.5,813.8 L417.2,814.6 L418.2,815.0 L418.9,815.3 L420.6,816.0 L422.3,816.8 L423.1,817.1 L424.0,817.5 L425.8,818.2 L427.5,818.9 L428.2,819.2 L429.0,819.5 L429.2,819.6 L430.9,820.3 L432.6,821.0 L433.3,821.3 L434.3,821.7 L436.0,822.4 L437.8,823.0 L438.5,823.3 L439.5,823.7 L441.2,824.4 L442.9,825.0 L443.8,825.4 L444.3,825.6 L444.6,825.7 L446.3,826.3 L448.0,827.0 L449.1,827.4 L449.8,827.6 L451.5,828.3 L453.2,828.9 L454.6,829.4 L454.9,829.5 L456.6,830.1 L458.3,830.7 L458.3,830.8 L460.0,831.4 L460.1,831.4 L461.8,832.0 L463.5,832.6 L465.2,833.2 L465.8,833.4 L466.9,833.8 L468.6,834.3 L470.3,834.9 L471.3,835.2 L471.5,835.3 L472.0,835.5 L473.8,836.1 L475.5,836.6 L477.2,837.2 L477.3,837.2 L478.9,837.8 L480.6,838.3 L482.3,838.9 L483.2,839.1 L483.3,839.2 L484.0,839.4 L485.7,839.9 L487.5,840.5 L489.2,841.0 L489.2,841.0 L490.9,841.5 L492.6,842.1 L494.3,842.6 L494.3,842.6 L495.2,842.9 L496.0,843.1 L497.7,843.6 L499.5,844.1 L501.2,844.6 L501.4,844.7 L502.9,845.1 L504.5,845.6 L504.6,845.6 L506.3,846.1 L507.7,846.5 L508.0,846.6 L509.7,847.1 L511.4,847.5 L513.2,848.0 L514.0,848.2 L514.1,848.3 L514.9,848.5 L516.6,848.9 L518.3,849.4 L520.0,849.9 L520.5,850.0 L521.7,850.3 L522.7,850.6 L523.4,850.8 L525.1,851.2 L526.8,851.6 L527.1,851.7 L528.6,852.1 L530.3,852.5 L530.7,852.6 L532.0,852.9 L533.7,853.3 L533.8,853.4 L535.4,853.8 L537.1,854.2 L538.1,854.4 L538.8,854.6 L540.5,855.0 L540.6,855.0 L542.3,855.4 L544.0,855.8 L545.0,856.0" stroke="#00C094" clip-path="url(#cPAST)"/>
<clipPath id="cAFC"><rect x="0" y="437.0" width="1062" height="1052"/></clipPath>
<path d="M110.5,432.0 L110.9,437.0 L111.0,437.9 L111.0,438.8 L111.1,439.7 L111.2,440.7 L111.2,441.6 L111.3,442.6 L111.4,443.6 L111.5,444.6 L111.5,445.7 L111.6,446.7 L111.7,447.8 L111.7,448.8 L111.8,449.9 L111.9,450.9 L111.9,451.0 L112.0,452.1 L112.1,453.2 L112.1,454.3 L112.2,455.4 L112.3,456.5 L112.4,457.6 L112.5,458.8 L112.6,459.9 L112.7,461.1 L112.8,462.2 L112.8,463.4 L112.9,463.9 L112.9,464.5 L113.0,465.7 L113.1,466.8 L113.2,468.0 L113.3,469.2 L113.4,470.3 L113.5,471.5 L113.6,472.7 L113.7,473.9 L113.8,475.1 L113.9,475.6 L113.9,476.2 L114.0,477.4 L114.2,478.6 L114.3,479.8 L114.4,481.0 L114.5,482.2 L114.6,483.4 L114.7,484.6 L114.8,485.8 L114.9,486.1 L115.0,487.0 L115.1,488.1 L115.2,489.3 L115.3,490.5 L115.5,491.7 L115.6,492.9 L115.7,494.1 L115.9,495.3 L115.9,495.4 L116.0,496.5 L116.1,497.7 L116.3,498.9 L116.4,500.1 L116.6,501.3 L116.7,502.6 L116.9,503.8 L116.9,503.9 L117.0,505.0 L117.2,506.2 L117.3,507.4 L117.5,508.6 L117.6,509.8 L117.8,511.0 L117.9,511.6 L117.9,512.2 L118.1,513.4 L118.3,514.6 L118.4,515.8 L118.6,517.0 L118.8,518.2 L118.9,518.7 L119.0,519.4 L119.1,520.6 L119.3,521.8 L119.5,523.0 L119.7,524.2 L119.9,525.2 L119.9,525.4 L120.1,526.6 L120.3,527.8 L120.5,529.0 L120.7,530.2 L120.8,531.3 L120.9,531.4 L121.1,532.6 L121.3,533.8 L121.5,535.0 L121.7,536.2 L121.8,537.0 L121.9,537.4 L122.1,538.6 L122.4,539.8 L122.6,541.0 L122.8,542.3 L122.8,542.3 L123.1,543.5 L123.3,544.7 L123.5,545.9 L123.8,547.1 L123.8,547.4 L124.0,548.3 L124.3,549.5 L124.5,550.7 L124.8,551.9 L124.8,552.1 L125.0,553.1 L125.3,554.3 L125.6,555.5 L125.8,556.6 L125.8,556.7 L126.1,557.9 L126.4,559.1 L126.7,560.3 L126.8,560.9 L127.0,561.6 L127.3,562.8 L127.6,564.0 L127.8,565.0 L127.9,565.2 L128.2,566.4 L128.5,567.6 L128.8,568.8 L128.8,568.9 L129.1,570.0 L129.4,571.3 L129.7,572.5 L129.8,572.7 L130.1,573.7 L130.4,574.9 L130.8,576.1 L130.8,576.3 L131.1,577.3 L131.4,578.6 L131.5,578.9 L131.8,579.8 L131.8,579.8 L132.2,581.0 L132.5,582.2 L132.8,583.1 L132.9,583.5 L133.3,584.7 L133.6,585.9 L133.8,586.3 L134.0,587.1 L134.4,588.4 L134.8,589.5 L134.8,589.6 L135.2,590.8 L135.6,592.1 L135.8,592.5 L136.0,593.3 L136.5,594.6 L136.8,595.5 L136.9,595.8 L137.3,597.0 L137.8,598.3 L137.8,598.3 L138.2,599.5 L138.6,600.8 L138.8,601.1 L139.1,602.0 L139.6,603.3 L139.8,603.8 L140.0,604.5 L140.5,605.8 L140.7,606.4 L141.0,607.0 L141.5,608.3 L141.7,609.0 L142.0,609.6 L142.5,610.8 L142.7,611.5 L143.0,612.1 L143.5,613.4 L143.7,613.9 L144.0,614.6 L144.6,615.9 L144.7,616.3 L145.1,617.2 L145.6,618.5 L145.7,618.7 L146.2,619.7 L146.7,620.9 L146.8,621.0 L147.3,622.3 L147.7,623.2 L147.9,623.6 L148.5,624.9 L148.7,625.4 L149.1,626.2 L149.7,627.5 L149.7,627.5 L150.3,628.8 L150.7,629.7 L150.8,629.8 L150.9,630.1 L151.5,631.4 L151.7,631.7 L152.2,632.7 L152.7,633.8 L152.8,634.0 L153.5,635.3 L153.7,635.8 L154.1,636.7 L154.7,637.7 L154.8,638.0 L155.5,639.3 L155.7,639.7 L156.2,640.7 L156.7,641.6 L156.9,642.0 L157.6,643.3 L157.7,643.5 L158.3,644.7 L158.7,645.3 L159.0,646.0 L159.7,647.1 L159.8,647.4 L160.5,648.7 L160.6,648.9 L161.3,650.1 L161.6,650.7 L162.1,651.5 L162.6,652.5 L162.9,652.8 L163.6,654.2 L163.7,654.2 L164.5,655.6 L164.6,655.9 L165.3,657.0 L165.6,657.6 L166.1,658.4 L166.6,659.2 L167.0,659.8 L167.6,660.9 L167.8,661.2 L168.6,662.5 L168.7,662.6 L168.7,662.6 L169.6,664.0 L169.6,664.1 L170.4,665.4 L170.6,665.7 L171.3,666.8 L171.6,667.2 L172.3,668.3 L172.6,668.8 L173.2,669.7 L173.6,670.3 L174.1,671.1 L174.6,671.8 L175.1,672.6 L175.6,673.3 L176.0,674.0 L176.6,674.8 L177.0,675.5 L177.6,676.3 L178.0,676.9 L178.6,677.7 L179.0,678.4 L179.6,679.2 L180.1,679.9 L180.5,680.6 L181.1,681.4 L181.5,682.0 L182.1,682.8 L182.5,683.4 L183.2,684.3 L183.5,684.8 L184.3,685.8 L184.5,686.2 L185.3,687.3 L185.4,687.3 L185.5,687.5 L186.5,688.9 L186.5,688.9 L187.5,690.2 L187.6,690.4 L188.5,691.5 L188.8,691.9 L189.5,692.9 L189.9,693.4 L190.5,694.2 L191.1,695.0 L191.5,695.5 L192.3,696.5 L192.5,696.8 L193.5,698.1 L193.5,698.1 L194.5,699.3 L194.7,699.7 L195.5,700.6 L196.0,701.2 L196.5,701.8 L197.2,702.8 L197.5,703.1 L198.5,704.3 L198.5,704.4 L199.5,705.5 L199.8,706.0 L200.4,706.8 L200.9,707.3 L201.1,707.6 L201.4,708.0 L202.4,709.2 L202.5,709.2 L203.4,710.4 L203.8,710.8 L204.4,711.6 L205.2,712.5 L205.4,712.7 L206.4,713.9 L206.6,714.1 L207.4,715.1 L208.0,715.8 L208.4,716.2 L209.4,717.4 L209.4,717.4 L210.4,718.5 L210.9,719.1 L211.4,719.7 L212.3,720.8 L212.4,720.8 L213.4,722.0 L213.8,722.5 L214.4,723.1 L215.3,724.2 L215.4,724.2 L215.4,724.2 L216.4,725.3 L216.9,725.9 L217.4,726.4 L218.4,727.5 L218.4,727.6 L219.4,728.6 L220.0,729.3 L220.3,729.7 L221.3,730.8 L221.6,731.1 L222.3,731.8 L223.2,732.8 L223.3,732.9 L224.3,734.0 L224.9,734.6 L225.3,735.0 L226.3,736.1 L226.5,736.3 L227.3,737.2 L228.2,738.1 L228.3,738.2 L228.9,738.8 L229.3,739.3 L229.9,739.9 L230.3,740.3 L231.3,741.3 L231.7,741.7 L232.3,742.4 L233.3,743.4 L233.4,743.5 L234.3,744.4 L235.2,745.4 L235.3,745.4 L236.3,746.4 L237.0,747.2 L237.3,747.4 L238.3,748.5 L238.9,749.1 L239.3,749.5 L240.2,750.5 L240.7,751.0 L241.2,751.4 L241.5,751.7 L242.2,752.4 L242.6,752.8 L243.2,753.4 L244.2,754.4 L244.6,754.7 L245.2,755.4 L246.2,756.4 L246.5,756.6 L247.2,757.3 L248.2,758.3 L248.5,758.6 L249.2,759.3 L250.2,760.3 L250.5,760.5 L251.2,761.2 L252.2,762.2 L252.5,762.5 L253.2,763.1 L253.2,763.1 L254.2,764.1 L254.5,764.4 L255.2,765.0 L256.2,766.0 L256.6,766.4 L257.2,766.9 L258.2,767.9 L258.7,768.4 L259.2,768.8 L260.1,769.7 L260.9,770.4 L261.1,770.7 L262.1,771.6 L263.1,772.5 L263.1,772.5 L264.1,773.4 L264.1,773.5 L265.1,774.4 L265.3,774.5 L266.1,775.3 L267.1,776.2 L267.5,776.6 L268.1,777.1 L269.1,778.1 L269.8,778.7 L270.1,779.0 L271.1,779.9 L272.1,780.8 L272.1,780.8 L273.1,781.7 L274.1,782.6 L274.3,782.8 L274.4,782.9 L275.1,783.5 L276.1,784.4 L276.8,785.0 L277.1,785.3 L278.1,786.2 L279.1,787.1 L279.2,787.2 L280.0,788.0 L281.0,788.9 L281.6,789.4 L282.0,789.8 L283.0,790.7 L283.7,791.3 L284.0,791.6 L284.0,791.6 L285.0,792.4 L286.0,793.3 L286.5,793.8 L287.0,794.2 L288.0,795.1 L289.0,796.0 L289.1,796.0 L290.0,796.9 L291.0,797.7 L291.6,798.3 L292.0,798.6 L292.6,799.1 L293.0,799.5 L294.0,800.4 L294.3,800.6 L295.0,801.2 L296.0,802.1 L296.9,802.9 L297.0,803.0 L298.0,803.8 L299.0,804.7 L299.6,805.3 L299.9,805.6 L300.8,806.3 L300.9,806.5 L301.9,807.3 L302.3,807.6 L302.9,808.2 L303.9,809.0 L304.9,809.9 L305.0,810.0 L305.9,810.8 L306.9,811.6 L307.8,812.4 L307.9,812.5 L308.5,813.0 L308.9,813.4 L309.9,814.2 L310.7,814.9 L310.9,815.1 L311.9,815.9 L312.9,816.8 L313.5,817.4 L313.9,817.7 L314.9,818.5 L315.6,819.2 L315.9,819.4 L316.5,819.9 L316.9,820.2 L317.9,821.1 L318.9,822.0 L319.4,822.4 L319.8,822.8 L320.8,823.7 L321.8,824.5 L322.3,824.9 L322.4,825.0 L322.8,825.4 L323.8,826.3 L324.8,827.1 L325.4,827.7 L325.8,828.0 L326.8,828.8 L327.8,829.7 L328.5,830.3 L328.5,830.3 L328.8,830.6 L329.8,831.4 L330.8,832.3 L331.6,833.0 L331.8,833.1 L332.8,834.0 L333.8,834.9 L334.2,835.3 L334.8,835.7 L334.8,835.8 L335.8,836.6 L336.8,837.5 L337.8,838.3 L338.0,838.6 L338.8,839.2 L339.6,840.0 L339.7,840.1 L340.7,841.0 L341.3,841.4 L341.7,841.8 L342.7,842.7 L343.7,843.6 L344.6,844.3 L344.6,844.4 L344.7,844.5 L345.7,845.3 L346.7,846.2 L347.7,847.1 L347.9,847.3 L348.7,848.0 L349.3,848.5 L349.7,848.9 L350.7,849.8 L351.3,850.4 L351.7,850.7 L352.7,851.6 L353.6,852.4 L353.7,852.5 L354.7,853.4 L354.8,853.5 L355.7,854.3 L356.7,855.2 L357.7,856.1 L357.7,856.1 L358.3,856.7 L358.7,857.0 L359.6,857.9 L360.6,858.9 L361.5,859.6 L361.6,859.8 L361.8,860.0 L362.6,860.7 L363.6,861.7 L364.6,862.6 L365.0,863.0 L365.4,863.3 L365.6,863.6 L366.6,864.5 L367.6,865.5 L368.3,866.1 L368.6,866.4 L369.0,866.9 L369.6,867.4 L370.6,868.4 L371.3,869.1 L371.6,869.4 L372.6,870.4 L372.7,870.5 L373.6,871.4 L374.2,872.0 L374.6,872.4 L375.6,873.4 L376.5,874.3 L376.6,874.4 L376.8,874.7 L377.6,875.4 L378.6,876.5 L379.3,877.3 L379.5,877.6 L380.3,878.3 L380.5,878.6 L381.5,879.7 L381.6,879.8 L382.5,880.8 L383.5,881.9 L383.8,882.2 L384.1,882.6 L384.5,883.0 L385.5,884.2 L385.8,884.5 L386.5,885.3 L387.5,886.5 L387.6,886.7 L388.0,887.2 L388.5,887.7 L389.4,888.8 L389.5,888.9 L390.5,890.2 L391.0,890.8 L391.5,891.5 L392.0,892.1 L392.5,892.8 L392.5,892.8 L393.5,894.1 L393.9,894.7 L394.5,895.4 L395.2,896.5 L395.5,896.9 L396.0,897.6 L396.4,898.2 L396.5,898.3 L397.5,899.8 L397.6,899.9 L398.5,901.3 L398.6,901.6 L399.4,902.9 L399.6,903.2 L400.1,904.0 L400.4,904.6 L400.5,904.7 L401.4,906.2 L401.4,906.3 L402.2,907.6 L402.4,908.1 L402.9,909.0 L403.4,910.0 L403.6,910.4 L404.2,911.6 L404.3,911.7 L404.4,912.1 L404.9,913.0 L405.4,914.2 L405.4,914.2 L405.9,915.4 L406.4,916.6 L406.4,916.6 L406.9,917.7 L407.3,918.8 L407.4,919.1 L407.7,919.9 L408.1,920.9 L408.4,921.9" stroke="#00B6EB" clip-path="url(#cAFC)"/>
<clipPath id="cSF"><rect x="0" y="286.5" width="1062" height="1052"/></clipPath>
<path d="M110.3,281.6 L110.9,286.5 L110.9,286.5 L111.0,287.2 L111.0,287.8 L111.1,288.5 L111.2,289.1 L111.3,289.8 L111.4,290.5 L111.4,291.2 L111.5,291.9 L111.6,292.6 L111.7,293.3 L111.8,294.0 L111.9,294.8 L112.0,295.5 L112.0,296.3 L112.1,297.0 L112.2,297.8 L112.3,298.6 L112.4,299.4 L112.5,300.2 L112.6,300.9 L112.6,301.0 L112.7,301.8 L112.8,302.7 L112.9,303.5 L113.0,304.4 L113.1,305.3 L113.3,306.1 L113.4,307.0 L113.5,307.9 L113.6,308.8 L113.7,309.8 L113.8,310.7 L114.0,311.7 L114.1,312.6 L114.2,313.6 L114.3,314.5 L114.3,314.6 L114.5,315.6 L114.6,316.6 L114.7,317.6 L114.8,318.6 L115.0,319.7 L115.1,320.7 L115.3,321.8 L115.4,322.9 L115.6,323.9 L115.7,325.1 L115.9,326.2 L116.0,327.3 L116.0,327.5 L116.2,328.4 L116.3,329.6 L116.5,330.8 L116.6,331.9 L116.8,333.1 L117.0,334.4 L117.1,335.6 L117.3,336.8 L117.5,338.1 L117.7,339.3 L117.7,339.8 L117.9,340.6 L118.0,341.9 L118.2,343.2 L118.4,344.5 L118.6,345.8 L118.8,347.2 L119.0,348.5 L119.2,349.9 L119.4,351.3 L119.5,351.6 L119.6,352.7 L119.8,354.1 L120.0,355.5 L120.3,357.0 L120.5,358.4 L120.7,359.9 L120.9,361.4 L121.2,362.8 L121.2,362.9 L121.4,364.4 L121.7,366.0 L121.9,367.5 L122.1,369.1 L122.4,370.6 L122.7,372.2 L122.9,373.6 L122.9,373.8 L123.2,375.5 L123.5,377.1 L123.7,378.7 L124.0,380.4 L124.3,382.1 L124.6,383.8 L124.6,383.9 L124.9,385.5 L125.2,387.2 L125.5,388.9 L125.8,390.7 L126.1,392.5 L126.3,393.7 L126.4,394.2 L126.7,396.0 L127.0,397.8 L127.4,399.7 L127.7,401.5 L128.0,403.2 L128.0,403.4 L128.4,405.2 L128.7,407.1 L129.1,409.0 L129.5,410.9 L129.7,412.3 L129.8,412.9 L130.2,414.8 L130.6,416.8 L131.0,418.7 L131.4,420.7 L131.4,421.1 L131.8,422.7 L132.2,424.7 L132.6,426.7 L133.0,428.8 L133.1,429.5 L133.4,430.8 L133.8,432.9 L134.3,435.0 L134.7,437.1 L134.8,437.7 L135.2,439.2 L135.6,441.3 L136.1,443.5 L136.6,445.5 L136.6,445.6 L137.1,447.8 L137.5,450.0 L138.0,452.1 L138.3,453.1 L138.5,454.3 L139.1,456.6 L139.6,458.8 L140.0,460.5 L140.1,461.0 L140.6,463.3 L141.2,465.5 L141.7,467.6 L141.7,467.8 L142.3,470.1 L142.9,472.4 L143.4,474.5 L143.5,474.7 L144.1,477.0 L144.7,479.4 L145.1,481.1 L145.3,481.7 L145.9,484.1 L146.5,486.4 L146.8,487.6 L147.2,488.8 L147.8,491.2 L148.5,493.6 L148.5,493.9 L149.1,496.0 L149.8,498.4 L150.2,500.0 L150.5,500.8 L150.5,500.9 L151.2,503.3 L151.9,505.8 L152.0,505.9 L152.6,508.2 L153.4,510.7 L153.7,511.6 L154.1,513.2 L154.9,515.6 L155.4,517.2 L155.7,518.1 L156.4,520.6 L157.1,522.7 L157.2,523.2 L158.1,525.7 L158.8,528.0 L158.9,528.2 L159.7,530.7 L160.5,533.1 L160.6,533.3 L161.4,535.8 L162.2,538.2 L162.3,538.4 L163.2,540.9 L163.9,543.1 L164.1,543.5 L165.0,546.1 L165.6,547.9 L165.9,548.7 L166.9,551.3 L167.4,552.5 L167.9,553.9 L168.8,556.5 L169.1,557.1 L169.8,559.1 L170.8,561.5 L170.8,561.7 L171.9,564.3 L172.5,565.9 L172.9,566.9 L174.0,569.5 L174.2,570.1 L175.0,572.2 L175.9,574.3 L176.1,574.8 L177.2,577.4 L177.6,578.4 L178.4,580.1 L179.3,582.3 L179.5,582.7 L180.7,585.4 L181.0,586.2 L181.8,588.0 L182.7,590.0 L183.0,590.7 L184.3,593.3 L184.5,593.8 L185.5,596.0 L186.2,597.4 L186.8,598.7 L187.0,599.2 L187.9,601.0 L188.0,601.3 L189.3,604.0 L189.6,604.5 L190.7,606.7 L191.3,608.0 L192.0,609.3 L193.0,611.3 L193.4,612.0 L194.7,614.7 L194.7,614.7 L196.1,617.4 L196.4,617.9 L197.6,620.0 L198.1,621.1 L199.0,622.7 L199.9,624.2 L200.5,625.4 L201.6,627.3 L202.0,628.0 L203.3,630.3 L203.5,630.7 L205.0,633.3 L205.0,633.4 L206.6,636.1 L206.7,636.2 L208.2,638.7 L208.4,639.1 L209.8,641.4 L210.1,641.9 L211.5,644.1 L211.8,644.7 L213.1,646.7 L213.5,647.4 L214.8,649.4 L215.3,650.1 L216.6,652.1 L217.0,652.7 L218.3,654.7 L218.7,655.3 L220.1,657.4 L220.4,657.8 L220.8,658.4 L221.9,660.1 L222.1,660.3 L223.7,662.7 L223.8,662.8 L225.5,665.2 L225.6,665.4 L227.2,667.6 L227.5,668.0 L228.9,670.0 L229.4,670.7 L230.6,672.3 L231.4,673.3 L232.4,674.6 L233.4,675.9 L234.1,676.9 L235.4,678.6 L235.8,679.1 L237.4,681.2 L237.5,681.3 L239.2,683.4 L239.5,683.8 L240.9,685.6 L241.6,686.5 L242.6,687.7 L243.8,689.1 L244.3,689.8 L246.0,691.7 L246.0,691.8 L247.8,693.8 L248.2,694.3 L249.5,695.8 L250.4,696.9 L251.2,697.8 L251.9,698.6 L252.7,699.5 L252.9,699.7 L254.6,701.6 L255.0,702.1 L256.3,703.5 L257.4,704.7 L258.0,705.4 L259.7,707.2 L259.8,707.3 L261.4,709.0 L262.2,709.8 L263.2,710.8 L264.7,712.4 L264.9,712.6 L266.6,714.3 L267.2,715.0 L268.3,716.0 L269.8,717.5 L270.0,717.8 L271.7,719.4 L272.4,720.1 L273.4,721.1 L275.0,722.6 L275.1,722.7 L276.8,724.4 L277.7,725.2 L278.5,726.0 L280.3,727.6 L280.4,727.7 L280.7,728.0 L282.0,729.1 L283.2,730.2 L283.7,730.7 L285.4,732.2 L286.0,732.7 L287.1,733.7 L288.8,735.2 L288.8,735.3 L290.5,736.7 L291.7,737.8 L292.2,738.2 L293.9,739.6 L294.7,740.3 L295.7,741.1 L297.4,742.5 L297.7,742.7 L299.1,743.9 L300.7,745.2 L300.8,745.3 L302.5,746.7 L303.8,747.7 L304.2,748.0 L305.9,749.4 L306.9,750.2 L307.3,750.4 L307.6,750.7 L309.3,752.0 L310.1,752.6 L311.1,753.3 L312.8,754.6 L313.3,755.1 L314.5,755.9 L316.2,757.2 L316.6,757.5 L317.9,758.4 L319.6,759.7 L320.0,759.9 L321.3,760.9 L323.0,762.1 L323.4,762.4 L324.7,763.3 L326.4,764.5 L326.8,764.8 L328.2,765.7 L329.9,766.9 L330.3,767.2 L331.6,768.0 L331.8,768.2 L333.3,769.2 L333.9,769.6 L335.0,770.3 L336.7,771.5 L337.5,771.9 L338.4,772.6 L340.1,773.7 L341.1,774.3 L341.8,774.8 L343.6,775.9 L344.9,776.7 L345.3,776.9 L347.0,778.0 L348.7,779.0 L348.7,779.1 L350.4,780.1 L352.1,781.1 L352.5,781.4 L353.8,782.2 L354.4,782.5 L355.5,783.2 L356.4,783.7 L357.2,784.2 L359.0,785.2 L360.4,786.0 L360.7,786.2 L362.4,787.2 L364.1,788.2 L364.4,788.3 L365.8,789.1 L367.5,790.1 L368.5,790.6 L369.2,791.0 L370.9,792.0 L372.6,792.9 L372.7,792.9 L374.3,793.8 L375.3,794.4 L376.1,794.8 L376.9,795.2 L377.8,795.7 L379.5,796.6 L381.2,797.5 L381.2,797.5 L382.9,798.4 L384.6,799.2 L385.6,799.7 L386.3,800.1 L388.0,801.0 L389.7,801.8 L390.0,802.0 L391.5,802.7 L393.2,803.5 L394.5,804.2 L394.7,804.3 L394.9,804.4 L396.6,805.2 L398.3,806.0 L399.1,806.4 L400.0,806.9 L401.7,807.7 L403.4,808.5 L403.7,808.6 L405.1,809.3 L406.9,810.1 L408.4,810.8 L408.6,810.9 L410.3,811.6 L412.0,812.4 L412.5,812.6 L413.2,813.0 L413.7,813.2 L415.4,813.9 L417.1,814.7 L418.1,815.1 L418.8,815.4 L420.5,816.2 L422.2,816.9 L423.1,817.3 L424.0,817.7 L425.7,818.4 L427.4,819.1 L428.1,819.4 L428.9,819.8 L429.1,819.8 L430.8,820.5 L432.5,821.2 L433.2,821.5 L434.2,821.9 L435.9,822.6 L437.6,823.3 L438.4,823.6 L439.4,824.0 L441.1,824.7 L442.8,825.4 L443.6,825.7 L444.1,825.9 L444.5,826.0 L446.2,826.7 L447.9,827.3 L449.0,827.8 L449.6,828.0 L451.3,828.6 L453.0,829.3 L454.4,829.8 L454.8,829.9 L456.5,830.6 L458.2,831.2 L458.2,831.2 L459.9,831.8 L460.0,831.8 L461.6,832.4 L463.3,833.0 L465.0,833.6 L465.6,833.8 L466.7,834.2 L468.4,834.8 L470.1,835.4 L471.1,835.8 L471.3,835.8 L471.9,836.0 L473.6,836.6 L475.3,837.2 L477.0,837.8 L477.1,837.8 L478.7,838.3 L480.4,838.9 L482.1,839.5 L483.0,839.7 L483.1,839.8 L483.8,840.0 L485.5,840.6 L487.3,841.1 L488.9,841.7 L489.0,841.7 L490.7,842.2 L492.4,842.8 L494.1,843.3 L494.1,843.3 L495.0,843.6 L495.8,843.8 L497.5,844.3 L499.2,844.9 L500.9,845.4 L501.2,845.4 L502.7,845.9 L504.3,846.4 L504.4,846.4 L506.1,846.9 L507.5,847.3 L507.8,847.4 L509.5,847.9 L511.2,848.4 L512.9,848.8 L513.7,849.1 L513.8,849.1 L514.6,849.3 L516.3,849.8 L518.0,850.3 L519.8,850.7 L520.3,850.9 L521.5,851.2 L522.4,851.5 L523.2,851.7 L524.9,852.1 L526.6,852.6 L526.9,852.6 L528.3,853.0 L530.0,853.5 L530.4,853.6 L531.7,853.9 L533.4,854.3 L533.5,854.4 L535.2,854.8 L536.9,855.2 L537.9,855.4 L538.6,855.6 L540.3,856.0 L540.3,856.0 L542.0,856.5 L543.7,856.9 L544.7,857.1 L545.4,857.3 L547.1,857.7 L547.2,857.7 L548.8,858.1 L550.6,858.5 L551.0,858.6 L552.3,858.9 L554.0,859.2 L554.2,859.3 L555.7,859.6 L556.8,859.9 L557.4,860.0 L559.1,860.4 L560.8,860.7 L561.3,860.9 L562.2,861.0 L562.5,861.1 L564.2,861.5 L565.9,861.8 L567.2,862.1 L567.7,862.2 L568.5,862.4 L569.4,862.5 L571.1,862.9 L571.8,863.0 L572.8,863.2 L574.5,863.5 L575.9,863.8 L576.0,863.8 L576.2,863.9 L577.9,864.2 L579.6,864.5 L579.9,864.6 L581.3,864.8 L583.1,865.2 L583.3,865.2 L583.6,865.2 L584.8,865.5 L586.5,865.8 L586.9,865.8 L588.2,866.1 L589.9,866.4 L590.0,866.4 L590.9,866.5 L591.6,866.6 L592.8,866.9 L593.3,866.9 L595.0,867.2 L595.4,867.3 L596.7,867.5 L597.9,867.7 L598.5,867.8 L598.6,867.8 L600.1,868.0 L600.2,868.0 L601.9,868.3 L602.2,868.3 L603.6,868.5 L604.1,868.6 L605.3,868.8 L605.8,868.9 L606.4,869.0 L607.0,869.0 L607.5,869.1 L608.7,869.3 L609.0,869.3 L610.4,869.5 L610.4,869.5 L611.6,869.7 L612.1,869.7 L612.8,869.8 L613.8,870.0 L613.9,870.0 L614.3,870.0 L614.9,870.1 L615.6,870.2 L615.9,870.2 L616.7,870.3 L617.3,870.4 L617.5,870.4 L618.2,870.5 L618.9,870.6 L619.0,870.6 L619.5,870.7 L620.1,870.7 L620.6,870.8 L620.7,870.8 L621.1,870.9 L621.6,870.9 L622.0,871.0 L622.4,871.0 L622.4,871.0" stroke="#A58AFF" clip-path="url(#cSF)"/>
<path d="M110.9,326.4 L110.9,326.4 L111.0,326.6 L111.1,326.9 L111.2,327.1 L111.2,327.3 L111.3,327.6 L111.4,327.9 L111.5,328.1 L111.6,328.4 L111.7,328.6 L111.8,328.9 L111.9,329.2 L112.0,329.5 L112.1,329.8 L112.2,330.0 L112.3,330.3 L112.4,330.6 L112.5,330.9 L112.6,331.3 L112.7,331.6 L112.9,331.9 L113.0,332.2 L113.1,332.5 L113.2,332.9 L113.3,333.2 L113.5,333.6 L113.6,333.9 L113.7,334.3 L113.9,334.6 L113.9,334.7 L114.0,335.0 L114.1,335.4 L114.3,335.8 L114.4,336.2 L114.6,336.5 L114.7,336.9 L114.9,337.3 L115.0,337.8 L115.2,338.2 L115.3,338.6 L115.5,339.0 L115.7,339.5 L115.8,339.9 L116.0,340.4 L116.2,340.8 L116.3,341.3 L116.5,341.8 L116.7,342.2 L116.9,342.7 L116.9,342.7 L117.1,343.2 L117.3,343.7 L117.5,344.2 L117.7,344.8 L117.9,345.3 L118.1,345.8 L118.3,346.4 L118.5,346.9 L118.7,347.5 L118.9,348.0 L119.2,348.6 L119.4,349.2 L119.6,349.8 L119.9,350.4 L119.9,350.4 L120.1,351.0 L120.4,351.6 L120.6,352.3 L120.9,352.9 L121.1,353.5 L121.4,354.2 L121.7,354.9 L121.9,355.5 L122.2,356.2 L122.5,356.9 L122.8,357.6 L122.9,357.8 L123.1,358.3 L123.4,359.1 L123.7,359.8 L124.0,360.5 L124.3,361.3 L124.6,362.1 L125.0,362.9 L125.3,363.6 L125.6,364.4 L125.8,365.0 L126.0,365.3 L126.3,366.1 L126.7,366.9 L127.0,367.8 L127.4,368.6 L127.8,369.5 L128.2,370.4 L128.6,371.3 L128.8,371.9 L128.9,372.2 L129.3,373.1 L129.8,374.0 L130.2,375.0 L130.6,375.9 L131.0,376.9 L131.5,377.9 L131.8,378.6 L131.9,378.9 L132.4,379.9 L132.8,380.9 L133.3,381.9 L133.8,383.0 L134.3,384.0 L134.8,385.1 L134.8,385.2 L135.3,386.2 L135.8,387.3 L136.3,388.4 L136.9,389.5 L137.4,390.7 L137.8,391.5 L138.0,391.8 L138.5,393.0 L139.1,394.2 L139.7,395.4 L140.3,396.6 L140.8,397.7 L140.9,397.8 L141.5,399.1 L142.1,400.4 L142.8,401.6 L143.4,402.9 L143.8,403.7 L144.1,404.2 L144.7,405.6 L145.4,406.9 L146.1,408.3 L146.8,409.5 L146.8,409.6 L147.5,411.0 L148.3,412.4 L149.0,413.8 L149.8,415.2 L149.8,415.3 L150.6,416.7 L151.3,418.2 L152.1,419.7 L152.8,420.8 L153.0,421.2 L153.8,422.7 L154.6,424.2 L155.5,425.8 L155.7,426.2 L156.4,427.3 L157.3,428.9 L158.2,430.5 L158.7,431.6 L159.1,432.2 L160.0,433.8 L161.0,435.5 L161.7,436.7 L162.0,437.1 L162.9,438.8 L163.9,440.5 L164.7,441.8 L165.0,442.2 L166.0,444.0 L167.1,445.8 L167.7,446.8 L168.2,447.5 L169.3,449.3 L170.4,451.1 L170.7,451.7 L171.5,453.0 L172.7,454.8 L173.7,456.4 L173.9,456.7 L175.1,458.6 L176.3,460.5 L176.7,461.1 L177.5,462.4 L178.8,464.3 L179.7,465.7 L180.1,466.3 L181.4,468.3 L182.7,470.2 L182.7,470.3 L184.1,472.3 L185.5,474.3 L185.6,474.6 L186.9,476.4 L187.6,477.4 L188.3,478.4 L188.6,478.9 L189.7,480.5 L191.2,482.6 L191.6,483.2 L192.7,484.8 L194.3,486.9 L194.6,487.4 L195.8,489.1 L197.4,491.2 L197.6,491.5 L199.1,493.4 L200.6,495.5 L200.7,495.7 L202.4,497.9 L203.6,499.5 L204.1,500.1 L205.8,502.4 L206.6,503.4 L207.6,504.7 L209.4,507.0 L209.6,507.2 L211.2,509.3 L212.6,511.0 L213.1,511.7 L215.0,514.0 L215.5,514.7 L216.9,516.4 L218.5,518.4 L218.9,518.8 L220.9,521.2 L221.5,522.0 L222.9,523.6 L224.5,525.5 L225.0,526.1 L227.1,528.5 L227.5,529.0 L229.2,531.0 L230.5,532.5 L231.4,533.5 L233.5,535.9 L233.6,536.0 L235.9,538.6 L236.5,539.2 L238.2,541.1 L239.5,542.5 L240.5,543.7 L242.5,545.7 L242.9,546.3 L245.4,548.8 L245.4,548.9 L247.8,551.5 L248.4,552.1 L250.3,554.1 L251.4,555.2 L252.9,556.7 L254.4,558.3 L255.5,559.4 L257.4,561.3 L257.7,561.6 L258.2,562.1 L260.4,564.3 L260.9,564.8 L263.4,567.3 L263.6,567.5 L266.4,570.2 L266.4,570.2 L269.2,572.9 L269.4,573.0 L272.1,575.7 L272.4,575.9 L275.1,578.4 L275.3,578.7 L278.1,581.2 L278.3,581.4 L281.1,584.0 L281.3,584.2 L284.2,586.8 L284.3,586.9 L287.3,589.5 L287.4,589.6 L290.3,592.2 L290.6,592.4 L293.3,594.8 L293.9,595.3 L296.3,597.3 L297.2,598.1 L299.3,599.9 L300.6,601.0 L302.3,602.4 L304.1,603.9 L305.2,604.9 L307.6,606.8 L308.2,607.3 L311.1,609.7 L311.2,609.7 L314.2,612.1 L314.8,612.6 L317.2,614.5 L318.5,615.5 L320.2,616.9 L321.9,618.2 L322.3,618.4 L323.2,619.2 L326.1,621.4 L326.2,621.5 L329.2,623.7 L330.0,624.3 L332.2,626.0 L334.0,627.3 L335.1,628.2 L338.0,630.3 L338.1,630.4 L341.1,632.5 L342.1,633.3 L344.1,634.7 L346.3,636.3 L347.1,636.8 L350.1,638.9 L350.6,639.2 L353.1,641.0 L354.9,642.3 L356.1,643.1 L359.1,645.1 L359.3,645.3 L362.1,647.1 L363.8,648.3 L365.0,649.1 L368.0,651.1 L368.4,651.3 L371.0,653.0 L373.0,654.3 L374.0,655.0 L377.0,656.9 L377.8,657.4 L380.0,658.8 L380.6,659.1 L382.6,660.4 L383.0,660.7 L386.0,662.5 L387.5,663.5 L389.0,664.4 L392.0,666.2 L392.5,666.5 L394.9,668.0 L397.6,669.6 L397.9,669.8 L400.9,671.5 L402.8,672.6 L403.9,673.3 L406.9,675.0 L408.0,675.7 L409.9,676.8 L412.9,678.5 L413.4,678.7 L415.9,680.2 L418.8,681.8 L418.9,681.8 L421.9,683.5 L424.4,684.9 L424.8,685.1 L427.8,686.8 L430.0,687.9 L430.8,688.4 L433.8,690.0 L434.2,690.2 L435.8,691.0 L436.8,691.5 L439.8,693.1 L441.6,694.1 L442.8,694.7 L445.8,696.2 L447.6,697.1 L448.8,697.7 L451.8,699.3 L453.7,700.2 L454.7,700.8 L457.7,702.2 L459.8,703.3 L460.7,703.7 L463.7,705.2 L466.1,706.3 L466.7,706.6 L469.7,708.1 L472.5,709.4 L472.7,709.5 L475.7,710.9 L478.7,712.3 L479.0,712.5 L481.7,713.7 L483.3,714.5 L484.6,715.1 L485.6,715.5 L487.6,716.4 L490.6,717.8 L492.3,718.6 L493.6,719.1 L496.6,720.5 L499.2,721.6 L499.6,721.8 L502.6,723.1 L505.6,724.4 L506.2,724.6 L508.6,725.7 L511.6,726.9 L513.3,727.7 L514.5,728.2 L517.5,729.5 L520.5,730.7 L520.5,730.7 L523.5,731.9 L526.5,733.2 L527.9,733.7 L528.2,733.9 L529.5,734.4 L532.5,735.6 L535.4,736.7 L535.5,736.8 L538.5,738.0 L541.5,739.1 L543.0,739.7 L544.4,740.3 L547.4,741.5 L550.4,742.6 L550.7,742.7 L553.4,743.7 L556.4,744.9 L558.6,745.7 L559.4,746.0 L562.4,747.1 L565.4,748.2 L566.7,748.7 L568.4,749.3 L569.3,749.6 L571.4,750.4 L574.3,751.5 L574.8,751.6 L577.3,752.5 L580.3,753.6 L583.1,754.6 L583.3,754.6 L586.3,755.7 L589.3,756.7 L591.6,757.5 L592.3,757.8 L595.3,758.8 L598.3,759.8 L600.2,760.4 L601.3,760.8 L604.2,761.8 L606.9,762.7 L607.2,762.8 L609.0,763.4 L610.2,763.8 L613.2,764.7 L616.2,765.7 L617.9,766.3 L619.2,766.7 L622.2,767.6 L625.2,768.6 L627.0,769.1 L628.2,769.5 L631.2,770.4 L634.1,771.4 L636.3,772.0 L637.1,772.3 L640.1,773.2 L641.2,773.5 L643.1,774.1 L645.7,774.9 L646.1,775.0 L649.1,775.9 L652.1,776.8 L655.1,777.6 L655.2,777.7 L658.1,778.5 L661.1,779.4 L664.0,780.2 L665.0,780.5 L667.0,781.1 L670.0,781.9 L672.7,782.7 L673.0,782.8 L674.9,783.3 L676.0,783.6 L679.0,784.4 L682.0,785.2 L685.0,786.1 L685.0,786.1 L688.0,786.9 L691.0,787.7 L693.9,788.5 L695.3,788.8 L696.9,789.3 L699.9,790.0 L701.4,790.4 L702.9,790.8 L705.7,791.6 L705.9,791.6 L708.9,792.4 L711.9,793.1 L714.9,793.9 L716.4,794.3 L717.9,794.6 L720.9,795.4 L723.8,796.1 L726.8,796.9 L727.2,797.0 L727.7,797.1 L729.8,797.6 L732.8,798.3 L735.8,799.0 L738.3,799.6 L738.8,799.8 L741.8,800.5 L744.8,801.2 L747.8,801.9 L749.5,802.3 L750.8,802.6 L751.7,802.8 L753.7,803.3 L756.7,803.9 L759.7,804.6 L760.9,804.9 L762.7,805.3 L765.7,806.0 L768.7,806.6 L771.7,807.3 L772.5,807.5 L773.7,807.7 L774.7,807.9 L777.7,808.6 L780.7,809.2 L783.6,809.9 L784.4,810.0 L786.6,810.5 L789.6,811.2 L792.6,811.8 L793.9,812.1 L795.6,812.4 L796.4,812.6 L798.6,813.0 L801.6,813.7 L804.6,814.3 L807.6,814.9 L808.6,815.1 L810.6,815.5 L812.3,815.8 L813.5,816.1 L816.5,816.7 L819.5,817.3 L821.1,817.6 L822.5,817.8 L825.5,818.4 L828.5,819.0 L829.1,819.1 L831.5,819.6 L833.8,820.0 L834.5,820.2 L837.5,820.7 L840.5,821.3 L843.4,821.8 L844.5,822.0 L846.4,822.4 L846.7,822.4 L849.4,822.9 L852.4,823.5 L855.4,824.0 L858.4,824.6 L858.6,824.6 L859.9,824.8 L861.4,825.1 L864.4,825.6 L867.4,826.2 L870.4,826.7 L871.5,826.9 L873.3,827.2 L873.3,827.2 L876.3,827.7 L879.3,828.2 L882.3,828.8 L883.3,828.9 L885.3,829.3 L886.9,829.5 L888.3,829.8 L891.3,830.3 L894.0,830.7 L894.3,830.8 L897.3,831.3 L900.3,831.7 L900.7,831.8 L903.2,832.2 L903.9,832.3 L906.2,832.7 L909.2,833.2 L912.2,833.7 L912.9,833.8 L914.8,834.1 L915.2,834.1 L918.2,834.6 L921.2,835.1 L921.2,835.1 L924.2,835.5 L927.2,836.0 L928.7,836.2 L929.2,836.3 L930.2,836.5 L933.1,836.9 L935.6,837.3 L936.1,837.4 L939.1,837.8 L941.9,838.2 L942.1,838.3 L943.8,838.5 L945.1,838.7 L947.7,839.1 L948.1,839.1 L951.1,839.6 L953.0,839.9 L954.1,840.0 L957.1,840.4 L957.8,840.6 L958.7,840.7 L960.1,840.9 L962.2,841.2 L963.0,841.3 L966.0,841.7 L966.2,841.8 L969.0,842.1 L969.9,842.3 L972.0,842.6 L973.3,842.7 L973.8,842.8 L975.0,843.0 L976.4,843.2 L978.0,843.4 L979.2,843.6 L981.0,843.8 L981.8,843.9 L984.0,844.2 L984.2,844.3 L986.4,844.5 L987.0,844.6 L988.3,844.8 L989.2,844.9 L990.0,845.0 L990.2,845.1 L991.8,845.3 L992.9,845.4 L993.3,845.5 L994.7,845.7 L995.9,845.9 L996.0,845.9 L997.1,846.0 L998.2,846.2 L998.9,846.3 L999.2,846.3 L1000.1,846.4 L1000.9,846.5 L1001.6,846.6 L1001.9,846.7 L1002.3,846.7 L1002.9,846.8 L1003.5,846.9 L1004.0,847.0 L1004.5,847.0 L1004.9,847.1 L1004.9,847.1" stroke="#FB61D7"/>
</g>
<g class="legend" fill="#000">
<line x1="709.5" x2="739.5" y1="189.3" y2="189.3" stroke="#F8766D" stroke-width="6.8"/>
<text x="754.6" y="195.8" font-size="18.3" stroke="#000" stroke-width="0.35">AGRI</text>
<line x1="709.5" x2="739.5" y1="226.5" y2="226.5" stroke="#C49A00" stroke-width="6.8"/>
<text x="754.6" y="233.0" font-size="18.3" stroke="#000" stroke-width="0.35">RF</text>
<line x1="709.5" x2="739.5" y1="263.5" y2="263.5" stroke="#53B400" stroke-width="6.8"/>
<text x="754.6" y="270.0" font-size="18.3" stroke="#000" stroke-width="0.35">LF</text>
<line x1="709.5" x2="739.5" y1="300.5" y2="300.5" stroke="#00C094" stroke-width="6.8"/>
<text x="754.6" y="307.0" font-size="18.3" stroke="#000" stroke-width="0.35">PAST</text>
<line x1="709.5" x2="739.5" y1="337.9" y2="337.9" stroke="#00B6EB" stroke-width="6.8"/>
<text x="754.6" y="344.4" font-size="18.3" stroke="#000" stroke-width="0.35">AFC</text>
<line x1="709.5" x2="739.5" y1="375.1" y2="375.1" stroke="#A58AFF" stroke-width="6.8"/>
<text x="754.6" y="381.6" font-size="18.3" stroke="#000" stroke-width="0.35">SF</text>
<line x1="709.5" x2="739.5" y1="412.2" y2="412.2" stroke="#FB61D7" stroke-width="6.8"/>
<text x="754.6" y="418.7" font-size="18.3" stroke="#000" stroke-width="0.35">SFF</text>
</g>
<text x="557.9" y="1040.6" font-size="34.3" text-anchor="middle" fill="#000">Number of species</text>
<text transform="translate(28.6,489) rotate(-90) scale(1,1.07)" font-size="34.6" text-anchor="middle" fill="#000">Log(Abudance)</text>
</svg>
</body></html>
